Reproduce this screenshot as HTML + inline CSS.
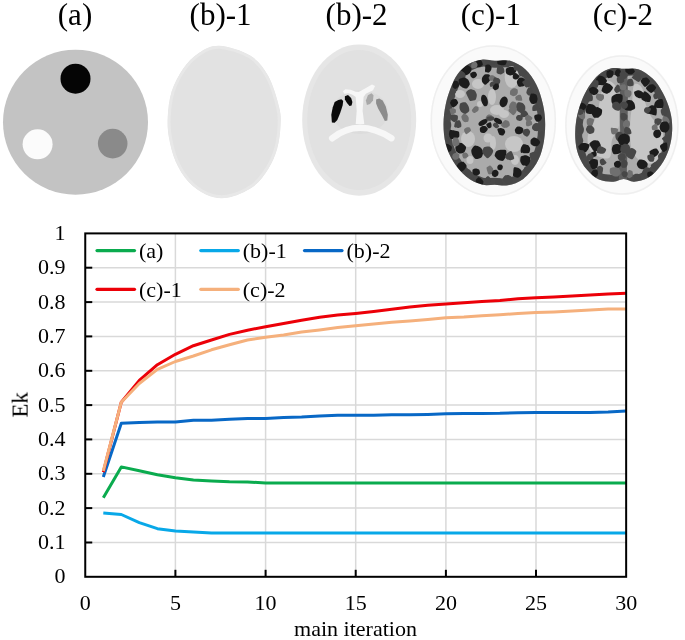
<!DOCTYPE html>
<html><head><meta charset="utf-8"><style>
html,body{margin:0;padding:0;background:#fff;}
svg{display:block;}
.t,.h{will-change:transform;}
.t{font-family:"Liberation Serif",serif;font-size:22px;fill:#000;}
.h{font-family:"Liberation Serif",serif;font-size:31px;fill:#000;}
</style></head><body>
<svg width="685" height="640" viewBox="0 0 685 640">
<rect width="685" height="640" fill="#fff"/>
<text x="75" y="25" text-anchor="middle" class="h">(a)</text>
<text x="220.6" y="25" text-anchor="middle" class="h">(b)-1</text>
<text x="356.6" y="25" text-anchor="middle" class="h">(b)-2</text>
<text x="490.8" y="25" text-anchor="middle" class="h">(c)-1</text>
<text x="622.9" y="25" text-anchor="middle" class="h">(c)-2</text>
<!-- (a) phantom -->
<circle cx="75.5" cy="122.2" r="72.5" fill="#c3c3c3"/>
<circle cx="75.5" cy="78.7" r="15" fill="#050505"/>
<circle cx="37.6" cy="144.3" r="15" fill="#fbfbfb"/>
<circle cx="112.7" cy="143.6" r="14.8" fill="#8a8a8a"/>
<!-- (b)-1 -->
<clipPath id="cb1"><path d="M219.3,45.7 C227.9,46.1 242.0,50.4 250.2,55.5 C258.4,60.6 263.5,67.5 268.3,76.1 C273.1,84.7 277.1,98.8 279.1,107.0 C281.2,115.2 280.9,118.2 280.6,125.1 C280.3,132.0 279.4,141.0 277.3,148.3 C275.2,155.6 272.4,162.5 268.3,168.9 C264.2,175.3 259.7,182.1 252.8,186.9 C245.9,191.7 234.7,196.5 227.0,197.8 C219.3,199.1 212.8,197.4 206.4,194.7 C200.0,192.0 193.6,187.4 188.4,181.8 C183.2,176.2 178.7,168.5 175.5,161.2 C172.3,153.9 170.3,145.3 169.0,138.0 C167.7,130.7 167.3,125.0 167.7,117.3 C168.1,109.6 169.0,99.8 171.6,91.6 C174.2,83.4 178.7,74.9 183.2,68.4 C187.7,62.0 192.7,56.7 198.7,52.9 C204.7,49.1 210.7,45.3 219.3,45.7 Z"/></clipPath>
<path d="M219.3,45.7 C227.9,46.1 242.0,50.4 250.2,55.5 C258.4,60.6 263.5,67.5 268.3,76.1 C273.1,84.7 277.1,98.8 279.1,107.0 C281.2,115.2 280.9,118.2 280.6,125.1 C280.3,132.0 279.4,141.0 277.3,148.3 C275.2,155.6 272.4,162.5 268.3,168.9 C264.2,175.3 259.7,182.1 252.8,186.9 C245.9,191.7 234.7,196.5 227.0,197.8 C219.3,199.1 212.8,197.4 206.4,194.7 C200.0,192.0 193.6,187.4 188.4,181.8 C183.2,176.2 178.7,168.5 175.5,161.2 C172.3,153.9 170.3,145.3 169.0,138.0 C167.7,130.7 167.3,125.0 167.7,117.3 C168.1,109.6 169.0,99.8 171.6,91.6 C174.2,83.4 178.7,74.9 183.2,68.4 C187.7,62.0 192.7,56.7 198.7,52.9 C204.7,49.1 210.7,45.3 219.3,45.7 Z" fill="#e2e2e2" stroke="#e8e8e8" stroke-width="6" clip-path="url(#cb1)"/>
<!-- (b)-2 -->
<ellipse cx="359.2" cy="120.1" rx="57" ry="75.7" fill="#e6e6e6"/>
<ellipse cx="359.2" cy="120.1" rx="52" ry="70" fill="#e1e1e1"/>
<ellipse cx="360" cy="112" rx="28" ry="22" fill="#dcdcdc"/>
<path d="M342.9,91.2 L345.4,89.2 L350.5,89.7 L355.7,91.8 L358.7,92.1 L365.9,88 L372,84.6 L375.1,86.1 L373,90.2 L365.9,93.8 L363.6,96.9 L362.6,110.7 L364.3,123.9 L355.7,123.9 L356.7,110.7 L355.7,96.9 L352.6,94.8 L348.5,93.3 L344.4,93.8 Z" fill="#f7f7f7"/>
<path d="M332.2,138.2 Q358.7,117.4 391.4,138.2" fill="none" stroke="#f7f7f7" stroke-width="6.5" stroke-linecap="round"/>
<path d="M331.9,122.4 L331.3,114.7 L332.7,107.6 L334.7,102 L338.3,99.9 L341.4,99.2 L343.2,100.9 L342.6,105.5 L340.3,112.7 L337.3,119.9 L334.7,122.7 Z" fill="#0a0a0a"/>
<path d="M344.9,96.3 L348,95.1 L351.1,97.9 L352.4,102 L351.6,105.5 L349.5,106.1 L347,103 L344.9,99.4 Z" fill="#0a0a0a"/>
<path d="M365.9,100.4 L367.9,95.3 L371.5,93.3 L373.5,95.3 L373,100.4 L370,104 L366.9,105 Z" fill="#a8a8a8"/>
<path d="M376.1,99.4 L379.2,98.4 L382.7,100.4 L385.8,106.6 L387.8,114.7 L387.3,120.4 L384.8,120.9 L382.2,115.8 L378.1,108.6 L376.1,103.5 Z" fill="#8c8c8c"/>
<defs><filter id="bl" x="-5%" y="-5%" width="110%" height="110%"><feGaussianBlur stdDeviation="0.7"/></filter><filter id="tx" x="0" y="0" width="100%" height="100%" filterUnits="objectBoundingBox"><feTurbulence type="fractalNoise" baseFrequency="0.2" numOctaves="2" seed="11" result="n"/><feColorMatrix in="n" type="matrix" values="0 0 0 0 0.22  0 0 0 0 0.22  0 0 0 0 0.22  -9 0 0 0 4.0"/><feGaussianBlur stdDeviation="0.6"/><feComposite in2="SourceGraphic" operator="in"/></filter></defs>
<ellipse cx="493.3" cy="121" rx="63" ry="76" fill="#fafafa"/>
<ellipse cx="493.3" cy="121" rx="62" ry="75" fill="none" stroke="#efefef" stroke-width="1.5"/>
<clipPath id="cp1"><path d="M494.9,60.8 C490.2,60.6 486.2,59.2 481.8,59.7 C477.4,60.2 472.6,61.6 468.6,64.0 C464.6,66.4 460.6,70.1 457.7,73.9 C454.8,77.7 453.1,81.9 451.1,87.0 C449.1,92.1 447.0,98.3 445.7,104.5 C444.4,110.7 443.5,117.6 443.5,124.2 C443.5,130.8 444.1,137.7 445.7,143.9 C447.3,150.1 449.9,155.9 453.3,161.4 C456.8,166.9 461.6,172.8 466.4,176.7 C471.1,180.6 477.1,183.2 481.8,184.6 C486.6,185.9 490.5,184.7 494.9,184.8 C499.3,184.9 503.3,186.2 508.0,185.2 C512.7,184.2 518.6,182.5 523.3,178.9 C528.0,175.3 533.1,169.1 536.4,163.6 C539.7,158.1 541.5,152.7 543.0,146.1 C544.5,139.5 545.2,131.1 545.2,124.2 C545.2,117.3 544.5,111.1 543.0,104.5 C541.5,97.9 539.3,90.6 536.4,84.8 C533.5,79.0 529.9,73.5 525.5,69.5 C521.1,65.5 515.3,62.2 510.2,60.8 C505.1,59.3 499.6,61.0 494.9,60.8 Z"/></clipPath>
<path d="M494.9,60.8 C490.2,60.6 486.2,59.2 481.8,59.7 C477.4,60.2 472.6,61.6 468.6,64.0 C464.6,66.4 460.6,70.1 457.7,73.9 C454.8,77.7 453.1,81.9 451.1,87.0 C449.1,92.1 447.0,98.3 445.7,104.5 C444.4,110.7 443.5,117.6 443.5,124.2 C443.5,130.8 444.1,137.7 445.7,143.9 C447.3,150.1 449.9,155.9 453.3,161.4 C456.8,166.9 461.6,172.8 466.4,176.7 C471.1,180.6 477.1,183.2 481.8,184.6 C486.6,185.9 490.5,184.7 494.9,184.8 C499.3,184.9 503.3,186.2 508.0,185.2 C512.7,184.2 518.6,182.5 523.3,178.9 C528.0,175.3 533.1,169.1 536.4,163.6 C539.7,158.1 541.5,152.7 543.0,146.1 C544.5,139.5 545.2,131.1 545.2,124.2 C545.2,117.3 544.5,111.1 543.0,104.5 C541.5,97.9 539.3,90.6 536.4,84.8 C533.5,79.0 529.9,73.5 525.5,69.5 C521.1,65.5 515.3,62.2 510.2,60.8 C505.1,59.3 499.6,61.0 494.9,60.8 Z" fill="#ababab"/>
<g clip-path="url(#cp1)"><g filter="url(#bl)">
<path d="M494.9,60.8 C490.2,60.6 486.2,59.2 481.8,59.7 C477.4,60.2 472.6,61.6 468.6,64.0 C464.6,66.4 460.6,70.1 457.7,73.9 C454.8,77.7 453.1,81.9 451.1,87.0 C449.1,92.1 447.0,98.3 445.7,104.5 C444.4,110.7 443.5,117.6 443.5,124.2 C443.5,130.8 444.1,137.7 445.7,143.9 C447.3,150.1 449.9,155.9 453.3,161.4 C456.8,166.9 461.6,172.8 466.4,176.7 C471.1,180.6 477.1,183.2 481.8,184.6 C486.6,185.9 490.5,184.7 494.9,184.8 C499.3,184.9 503.3,186.2 508.0,185.2 C512.7,184.2 518.6,182.5 523.3,178.9 C528.0,175.3 533.1,169.1 536.4,163.6 C539.7,158.1 541.5,152.7 543.0,146.1 C544.5,139.5 545.2,131.1 545.2,124.2 C545.2,117.3 544.5,111.1 543.0,104.5 C541.5,97.9 539.3,90.6 536.4,84.8 C533.5,79.0 529.9,73.5 525.5,69.5 C521.1,65.5 515.3,62.2 510.2,60.8 C505.1,59.3 499.6,61.0 494.9,60.8 Z" fill="none" stroke="#4a4a4a" stroke-width="14"/>
<ellipse cx="478" cy="84" rx="6" ry="5" fill="#c6c6c6"/>
<ellipse cx="492" cy="97" rx="4" ry="8" fill="#c6c6c6"/>
<ellipse cx="497" cy="110" rx="7" ry="5" fill="#c6c6c6"/>
<ellipse cx="511.7" cy="77" rx="7" ry="11" fill="#c6c6c6"/>
<ellipse cx="468" cy="139" rx="7" ry="8" fill="#c6c6c6"/>
<ellipse cx="488" cy="138" rx="4.5" ry="4.5" fill="#c6c6c6"/>
<ellipse cx="514" cy="144" rx="9" ry="8" fill="#c6c6c6"/>
<ellipse cx="515" cy="160" rx="4" ry="5" fill="#c6c6c6"/>
<ellipse cx="470" cy="160" rx="3.5" ry="4" fill="#c6c6c6"/>
<ellipse cx="493" cy="143" rx="3" ry="7" fill="#c6c6c6"/>
<ellipse cx="460" cy="94" rx="5" ry="4" fill="#c6c6c6"/>
<ellipse cx="480" cy="104" rx="3" ry="3" fill="#c6c6c6"/>
<ellipse cx="504" cy="114" rx="5" ry="4" fill="#c6c6c6"/>
<path d="M476.8,60.5 C477.3,60.1 478.9,59.4 479.5,59.5 C480.1,59.5 481.5,60.7 481.9,61.3 C482.2,62.0 483.0,64.0 482.8,64.7 C482.5,65.4 480.6,66.8 479.8,67.0 C479.0,67.2 476.5,67.1 476.0,66.6 C475.5,66.1 475.5,63.7 475.6,63.0 C475.7,62.3 476.4,61.0 476.8,60.5 Z" fill="#1e1e1e"/>
<path d="M484.8,62.5 C484.6,62.0 484.3,60.7 484.5,60.2 C484.6,59.7 485.7,58.2 486.2,58.1 C486.7,58.0 488.2,58.9 488.6,59.2 C489.1,59.6 489.8,60.6 489.9,61.2 C490.0,61.7 489.8,63.6 489.4,64.0 C489.0,64.4 487.0,64.8 486.5,64.6 C486.0,64.4 485.1,63.0 484.8,62.5 Z" fill="#474747"/>
<path d="M489.0,72.6 C488.3,72.8 485.7,72.5 485.3,72.0 C484.8,71.5 485.1,69.3 485.2,68.5 C485.2,67.7 485.1,65.5 485.5,65.0 C486.0,64.5 488.6,64.2 489.3,64.5 C490.0,64.7 491.3,66.5 491.5,67.1 C491.7,67.8 491.4,69.5 491.1,70.1 C490.8,70.8 489.6,72.4 489.0,72.6 Z" fill="#1e1e1e"/>
<path d="M477.5,64.7 C477.6,65.3 477.1,66.7 476.8,67.1 C476.4,67.5 475.3,68.1 474.7,68.2 C474.1,68.3 472.1,68.4 471.7,68.0 C471.3,67.6 471.1,65.6 471.2,64.9 C471.3,64.2 472.3,62.5 472.8,62.2 C473.4,61.9 475.5,61.9 476.0,62.1 C476.6,62.4 477.5,64.1 477.5,64.7 Z" fill="#707070"/>
<path d="M460.6,68.4 C460.9,67.6 463.4,66.1 464.3,65.7 C465.2,65.4 467.5,65.1 468.3,65.4 C469.1,65.7 471.3,67.6 471.5,68.5 C471.7,69.4 470.7,72.0 470.1,72.8 C469.4,73.6 467.1,75.2 466.2,75.2 C465.3,75.2 463.0,73.5 462.4,72.7 C461.7,71.9 460.4,69.2 460.6,68.4 Z" fill="#1e1e1e"/>
<path d="M472.6,71.9 C473.2,71.7 475.0,71.8 475.5,72.1 C476.0,72.4 477.0,74.1 477.0,74.7 C477.1,75.3 476.1,76.8 475.6,77.3 C475.1,77.7 473.5,78.4 472.9,78.3 C472.4,78.2 471.0,77.0 470.7,76.5 C470.4,75.9 470.0,74.1 470.2,73.6 C470.5,73.0 472.0,72.1 472.6,71.9 Z" fill="#1e1e1e"/>
<path d="M457.7,72.2 C458.5,71.6 461.0,70.9 461.9,71.1 C462.7,71.3 464.7,73.0 465.1,73.8 C465.5,74.6 465.6,76.9 465.4,77.9 C465.1,78.8 463.6,81.8 462.7,82.2 C461.8,82.5 458.5,81.3 457.7,80.6 C456.8,79.9 455.4,77.2 455.4,76.3 C455.4,75.3 457.0,72.8 457.7,72.2 Z" fill="#474747"/>
<path d="M466.9,88.5 C466.0,88.8 463.2,87.9 462.3,87.4 C461.4,87.0 459.7,85.6 459.3,84.6 C458.8,83.7 458.3,80.3 458.8,79.5 C459.3,78.7 462.7,77.6 463.8,77.6 C464.9,77.7 467.5,78.9 468.2,79.7 C468.9,80.5 469.9,83.3 469.8,84.3 C469.6,85.3 467.8,88.1 466.9,88.5 Z" fill="#1e1e1e"/>
<path d="M458.1,81.7 C458.7,82.2 459.2,84.4 459.1,85.1 C459.1,85.8 458.3,87.2 457.8,87.6 C457.4,88.1 455.8,89.0 455.2,89.0 C454.6,88.9 453.0,87.8 452.7,87.2 C452.4,86.6 452.3,84.9 452.5,84.2 C452.7,83.5 453.6,81.2 454.2,80.9 C454.9,80.6 457.6,81.2 458.1,81.7 Z" fill="#1e1e1e"/>
<path d="M454.7,89.6 C455.2,90.0 456.2,91.6 456.1,92.1 C456.0,92.7 454.8,94.0 454.2,94.4 C453.7,94.8 451.8,95.6 451.3,95.4 C450.7,95.2 449.7,93.4 449.5,92.7 C449.4,92.1 449.8,90.6 450.1,90.1 C450.4,89.7 451.8,88.9 452.3,88.8 C452.8,88.7 454.3,89.2 454.7,89.6 Z" fill="#474747"/>
<path d="M482.2,77.5 C482.5,76.7 483.9,74.8 484.7,74.4 C485.5,74.1 488.6,74.0 489.3,74.5 C490.0,75.1 490.6,77.9 490.6,78.8 C490.5,79.7 489.5,81.4 488.8,82.1 C488.2,82.8 486.0,84.9 485.2,84.8 C484.4,84.7 482.3,82.3 482.0,81.4 C481.7,80.6 481.9,78.3 482.2,77.5 Z" fill="#1e1e1e"/>
<path d="M494.6,79.4 C494.3,79.8 493.2,80.6 492.7,80.7 C492.1,80.8 490.4,80.8 489.9,80.4 C489.4,80.1 488.6,78.1 488.7,77.5 C488.8,76.9 490.2,75.5 490.7,75.3 C491.3,75.1 492.8,75.3 493.3,75.5 C493.8,75.7 495.2,76.5 495.4,77.0 C495.5,77.5 494.9,79.0 494.6,79.4 Z" fill="#707070"/>
<path d="M476.8,94.7 C476.9,95.8 476.3,99.0 475.6,99.8 C474.8,100.5 471.1,101.2 470.2,100.9 C469.3,100.5 468.2,97.7 467.7,96.7 C467.3,95.7 465.8,93.3 466.1,92.4 C466.3,91.5 469.0,89.4 470.0,89.2 C471.0,89.0 473.9,89.8 474.7,90.5 C475.5,91.1 476.7,93.6 476.8,94.7 Z" fill="#474747"/>
<path d="M453.2,107.4 C452.6,107.3 451.2,105.6 450.9,104.9 C450.5,104.3 449.8,102.6 450.0,102.0 C450.2,101.3 451.6,99.9 452.3,99.6 C453.0,99.3 455.4,98.8 456.1,99.2 C456.8,99.5 458.2,101.9 458.2,102.7 C458.2,103.4 456.7,105.1 456.1,105.7 C455.5,106.2 453.8,107.4 453.2,107.4 Z" fill="#1e1e1e"/>
<path d="M459.6,108.4 C459.4,107.4 459.5,104.1 460.2,103.4 C460.9,102.7 464.5,102.0 465.5,102.3 C466.5,102.7 468.0,105.3 468.5,106.3 C468.9,107.3 469.6,110.0 469.2,110.9 C468.8,111.8 466.2,113.7 465.3,113.9 C464.4,114.0 462.0,112.5 461.3,111.9 C460.6,111.2 459.7,109.4 459.6,108.4 Z" fill="#474747"/>
<path d="M452.9,108.3 C453.6,108.3 455.3,109.0 455.7,109.5 C456.0,110.0 456.0,112.1 455.8,112.6 C455.5,113.1 454.1,113.8 453.5,114.0 C453.0,114.2 451.5,114.4 451.1,114.2 C450.7,114.0 450.2,112.6 450.1,112.0 C449.9,111.4 449.4,109.3 449.7,108.9 C450.0,108.5 452.2,108.2 452.9,108.3 Z" fill="#707070"/>
<path d="M478.3,106.9 C478.7,107.3 478.7,109.3 478.6,109.9 C478.4,110.5 477.4,111.4 476.9,111.8 C476.4,112.1 474.8,113.2 474.2,113.1 C473.6,113.0 471.9,111.3 471.8,110.7 C471.7,110.1 473.0,108.6 473.4,108.0 C473.8,107.5 474.7,106.4 475.3,106.2 C475.9,106.1 478.0,106.4 478.3,106.9 Z" fill="#707070"/>
<path d="M457.6,119.8 C457.2,120.5 455.3,122.1 454.6,122.2 C453.9,122.3 452.2,121.0 451.6,120.5 C451.0,120.0 449.8,118.6 449.7,118.0 C449.7,117.3 450.5,115.2 451.0,114.8 C451.6,114.4 453.6,114.4 454.3,114.5 C455.1,114.6 457.3,115.2 457.7,115.8 C458.1,116.5 458.0,119.0 457.6,119.8 Z" fill="#474747"/>
<path d="M462.1,119.5 C461.7,118.8 461.2,117.0 461.4,116.3 C461.7,115.6 463.3,113.8 464.0,113.7 C464.7,113.6 466.6,114.7 467.1,115.2 C467.7,115.7 468.6,117.0 468.7,117.8 C468.8,118.5 468.7,121.1 468.2,121.6 C467.7,122.1 465.0,122.3 464.3,122.0 C463.6,121.8 462.4,120.2 462.1,119.5 Z" fill="#707070"/>
<path d="M485.5,119.4 C485.3,118.8 486.0,116.9 486.4,116.3 C486.7,115.8 488.0,114.6 488.6,114.5 C489.3,114.4 491.1,114.8 491.6,115.2 C492.2,115.6 493.3,117.5 493.3,118.1 C493.2,118.8 491.8,120.4 491.2,120.7 C490.6,121.1 488.9,121.3 488.2,121.2 C487.6,121.0 485.8,120.0 485.5,119.4 Z" fill="#707070"/>
<path d="M496.6,63.8 C496.3,64.3 494.7,64.9 494.0,65.1 C493.4,65.3 491.5,65.7 491.0,65.4 C490.4,65.0 489.5,62.9 489.6,62.3 C489.6,61.7 491.2,60.6 491.7,60.2 C492.3,59.9 493.5,59.4 494.0,59.5 C494.6,59.5 496.3,60.2 496.6,60.7 C496.9,61.3 496.9,63.3 496.6,63.8 Z" fill="#474747"/>
<path d="M492.9,86.5 C492.4,86.6 490.8,87.1 490.4,86.8 C490.0,86.5 489.6,84.8 489.7,84.3 C489.7,83.8 490.4,82.6 490.8,82.2 C491.2,81.9 492.6,81.3 493.1,81.4 C493.6,81.4 495.0,82.5 495.1,83.0 C495.3,83.4 494.7,84.9 494.5,85.3 C494.2,85.7 493.4,86.3 492.9,86.5 Z" fill="#474747"/>
<path d="M450.5,102.1 C450.2,102.6 448.4,103.6 447.7,103.7 C447.1,103.7 445.2,103.0 444.7,102.5 C444.2,102.0 443.3,100.0 443.3,99.3 C443.4,98.6 444.8,96.8 445.5,96.4 C446.2,96.0 448.7,95.4 449.2,95.7 C449.8,96.0 450.3,98.4 450.5,99.1 C450.6,99.9 450.8,101.6 450.5,102.1 Z" fill="#474747"/>
<path d="M443.1,114.0 C442.6,113.5 441.6,111.3 441.7,110.7 C441.9,110.2 444.0,109.1 444.7,108.9 C445.4,108.7 447.0,108.9 447.6,109.2 C448.2,109.4 449.5,110.8 449.7,111.4 C449.8,112.0 449.2,114.0 448.7,114.5 C448.3,114.9 446.4,115.5 445.8,115.4 C445.1,115.4 443.6,114.6 443.1,114.0 Z" fill="#474747"/>
<path d="M458.0,69.8 C457.4,69.7 456.0,68.5 455.6,67.9 C455.2,67.4 454.3,65.7 454.4,65.2 C454.5,64.6 456.0,63.2 456.6,63.1 C457.1,62.9 458.5,63.5 459.1,63.7 C459.7,64.0 461.6,64.6 461.8,65.1 C462.0,65.7 461.3,67.7 460.9,68.3 C460.4,68.8 458.6,69.8 458.0,69.8 Z" fill="#474747"/>
<path d="M506.8,60.2 C507.1,61.0 506.1,64.2 505.5,64.8 C504.8,65.4 502.1,65.3 501.2,65.3 C500.3,65.2 498.0,64.7 497.6,64.1 C497.1,63.5 497.1,61.1 497.4,60.3 C497.6,59.5 498.8,57.5 499.5,57.2 C500.1,56.9 502.2,57.6 503.0,58.0 C503.9,58.3 506.5,59.4 506.8,60.2 Z" fill="#1e1e1e"/>
<path d="M496.8,73.0 C496.4,72.4 496.7,70.1 496.8,69.2 C497.0,68.4 497.5,66.2 498.0,65.9 C498.6,65.5 501.0,65.8 501.7,66.1 C502.3,66.4 503.6,67.8 503.9,68.5 C504.2,69.3 504.6,71.6 504.3,72.3 C503.9,73.0 501.6,74.4 500.7,74.5 C499.9,74.6 497.3,73.6 496.8,73.0 Z" fill="#474747"/>
<path d="M506.0,68.9 C506.3,68.2 508.7,67.2 509.5,67.0 C510.4,66.8 512.3,66.8 513.1,67.1 C513.9,67.5 516.4,69.3 516.5,70.1 C516.6,71.0 514.9,73.6 514.2,74.2 C513.5,74.8 511.1,75.5 510.2,75.4 C509.3,75.4 506.8,74.2 506.3,73.4 C505.8,72.7 505.6,69.7 506.0,68.9 Z" fill="#1e1e1e"/>
<path d="M520.8,67.9 C520.6,68.6 519.0,70.0 518.2,70.2 C517.5,70.5 515.0,70.7 514.5,70.3 C514.0,69.9 513.8,67.6 513.7,66.8 C513.6,65.9 513.3,63.5 513.7,63.1 C514.1,62.7 516.7,63.2 517.4,63.4 C518.1,63.6 519.5,64.2 519.9,64.8 C520.3,65.3 521.0,67.3 520.8,67.9 Z" fill="#474747"/>
<path d="M516.1,62.5 C516.4,62.0 518.2,61.6 518.8,61.6 C519.4,61.6 520.5,62.2 521.0,62.6 C521.5,63.1 522.9,64.6 522.8,65.1 C522.8,65.6 521.1,66.7 520.5,67.0 C519.9,67.3 518.3,67.9 517.7,67.7 C517.2,67.5 515.9,66.1 515.7,65.5 C515.5,64.9 515.7,63.0 516.1,62.5 Z" fill="#474747"/>
<path d="M513.0,78.2 C512.7,77.7 512.7,75.9 512.9,75.2 C513.1,74.6 514.3,72.8 514.9,72.7 C515.4,72.6 517.1,73.8 517.6,74.2 C518.2,74.6 519.6,75.8 519.6,76.3 C519.7,76.8 518.4,78.3 517.9,78.7 C517.5,79.0 516.1,79.7 515.5,79.6 C514.9,79.5 513.3,78.7 513.0,78.2 Z" fill="#1e1e1e"/>
<path d="M521.6,69.7 C522.3,69.4 524.0,69.3 524.7,69.5 C525.4,69.7 527.4,71.0 527.5,71.6 C527.7,72.2 526.3,74.1 525.8,74.7 C525.4,75.2 524.2,76.5 523.5,76.6 C522.7,76.8 520.2,76.5 519.7,76.0 C519.1,75.4 518.3,72.7 518.5,71.9 C518.8,71.2 520.9,69.9 521.6,69.7 Z" fill="#474747"/>
<path d="M525.9,84.0 C525.6,84.7 524.0,86.0 523.2,86.3 C522.3,86.6 519.5,87.0 518.7,86.6 C518.0,86.1 516.8,83.2 516.8,82.1 C516.8,81.1 518.2,78.3 518.9,77.9 C519.7,77.4 522.5,77.6 523.3,77.9 C524.1,78.2 525.6,79.8 525.9,80.5 C526.2,81.2 526.3,83.3 525.9,84.0 Z" fill="#1e1e1e"/>
<path d="M528.7,79.6 C529.3,79.9 530.4,81.9 530.6,82.7 C530.7,83.5 530.5,86.0 530.0,86.6 C529.5,87.1 526.9,87.7 526.2,87.5 C525.5,87.3 524.5,85.7 524.0,85.0 C523.5,84.4 522.1,82.5 522.2,82.0 C522.3,81.4 524.5,80.3 525.2,80.0 C526.0,79.7 528.0,79.3 528.7,79.6 Z" fill="#474747"/>
<path d="M494.7,77.2 C495.3,76.9 497.6,77.8 498.2,78.1 C498.9,78.5 500.0,79.6 500.2,80.2 C500.4,80.7 500.1,82.4 499.8,83.0 C499.5,83.5 498.1,85.1 497.5,85.2 C496.9,85.3 495.1,84.2 494.6,83.6 C494.1,83.1 493.0,81.4 493.0,80.7 C493.0,79.9 494.0,77.5 494.7,77.2 Z" fill="#474747"/>
<path d="M495.5,83.6 C496.1,83.4 497.9,83.4 498.3,83.7 C498.7,84.0 499.1,85.8 499.0,86.5 C499.0,87.1 498.5,88.6 498.1,89.0 C497.6,89.4 495.8,90.3 495.2,90.2 C494.5,90.1 492.8,88.6 492.6,88.0 C492.5,87.4 493.4,85.7 493.7,85.2 C494.1,84.7 495.0,83.8 495.5,83.6 Z" fill="#1e1e1e"/>
<path d="M526.5,93.3 C526.2,92.7 526.6,91.2 526.8,90.5 C527.1,89.8 527.9,87.7 528.5,87.4 C529.1,87.2 531.6,87.9 532.1,88.4 C532.6,88.8 533.1,90.8 533.1,91.6 C533.1,92.4 532.9,94.6 532.4,95.0 C531.9,95.5 529.5,95.8 528.8,95.6 C528.1,95.5 526.7,93.9 526.5,93.3 Z" fill="#474747"/>
<path d="M529.5,100.6 C529.3,99.8 529.2,98.2 529.4,97.4 C529.6,96.6 530.7,93.9 531.5,93.6 C532.3,93.3 535.5,94.0 536.2,94.6 C536.9,95.3 537.6,98.0 537.6,99.0 C537.6,100.0 536.9,102.7 536.2,103.2 C535.5,103.8 532.5,104.1 531.7,103.8 C531.0,103.4 529.8,101.3 529.5,100.6 Z" fill="#1e1e1e"/>
<path d="M516.3,95.3 C515.8,95.7 514.2,96.2 513.5,96.2 C512.8,96.1 510.5,95.2 510.1,94.6 C509.8,93.9 510.0,91.4 510.4,90.6 C510.8,89.9 512.7,88.4 513.5,88.2 C514.3,88.0 516.9,88.6 517.4,89.2 C517.9,89.7 517.9,92.1 517.8,92.8 C517.7,93.5 516.8,94.9 516.3,95.3 Z" fill="#707070"/>
<path d="M519.1,100.7 C518.4,100.7 516.6,100.7 516.2,100.3 C515.8,99.9 515.1,97.8 515.3,97.1 C515.5,96.5 517.1,95.4 517.7,95.2 C518.3,94.9 520.1,94.6 520.6,94.9 C521.1,95.1 521.6,96.7 521.8,97.4 C522.0,98.0 522.5,100.1 522.2,100.5 C521.9,100.8 519.8,100.7 519.1,100.7 Z" fill="#707070"/>
<path d="M516.0,102.5 C516.6,103.1 517.3,105.4 517.2,106.2 C517.2,107.0 516.1,109.3 515.5,109.6 C514.9,109.9 512.9,109.1 512.1,108.9 C511.3,108.6 509.3,108.2 509.0,107.7 C508.8,107.1 509.5,105.0 509.8,104.3 C510.2,103.6 511.4,101.7 512.1,101.5 C512.8,101.3 515.4,102.0 516.0,102.5 Z" fill="#707070"/>
<path d="M514.3,106.8 C515.1,107.1 516.8,108.8 517.0,109.5 C517.2,110.2 516.2,112.1 515.8,112.8 C515.4,113.5 514.0,115.2 513.4,115.3 C512.8,115.3 511.3,113.8 510.7,113.2 C510.1,112.7 508.5,111.2 508.5,110.5 C508.4,109.8 509.8,107.7 510.5,107.3 C511.2,106.8 513.6,106.5 514.3,106.8 Z" fill="#707070"/>
<path d="M522.3,113.4 C521.4,113.6 518.4,112.0 517.7,111.3 C517.0,110.6 516.4,108.2 516.4,107.2 C516.4,106.1 517.0,103.0 517.7,102.5 C518.4,102.0 521.6,102.5 522.5,102.9 C523.3,103.3 524.7,105.0 525.0,105.8 C525.3,106.6 525.5,108.7 525.2,109.6 C524.9,110.5 523.1,113.2 522.3,113.4 Z" fill="#474747"/>
<path d="M522.6,117.1 C522.0,116.8 520.5,115.0 520.5,114.4 C520.4,113.8 521.7,112.3 522.2,111.8 C522.6,111.3 524.0,110.2 524.6,110.2 C525.1,110.2 526.5,111.3 526.9,111.8 C527.4,112.4 528.4,114.2 528.3,114.8 C528.1,115.3 526.4,116.5 525.7,116.8 C525.1,117.0 523.2,117.4 522.6,117.1 Z" fill="#474747"/>
<path d="M538.9,106.2 C539.3,106.9 540.3,109.2 540.1,109.8 C539.8,110.3 537.3,110.6 536.4,110.7 C535.6,110.8 533.2,111.3 532.7,110.9 C532.2,110.5 532.2,107.9 532.4,107.2 C532.6,106.4 533.5,105.2 534.1,104.8 C534.6,104.4 536.4,103.6 537.0,103.7 C537.6,103.9 538.5,105.5 538.9,106.2 Z" fill="#474747"/>
<path d="M537.5,114.3 C538.3,114.3 540.3,114.5 540.8,114.9 C541.4,115.4 542.0,117.5 541.9,118.3 C541.8,119.0 540.7,120.6 540.1,121.0 C539.4,121.4 537.4,122.0 536.7,121.8 C536.1,121.6 535.0,119.8 534.7,119.1 C534.5,118.4 534.0,116.3 534.3,115.7 C534.6,115.1 536.8,114.4 537.5,114.3 Z" fill="#1e1e1e"/>
<path d="M532.5,117.9 C532.6,118.5 531.2,120.1 530.7,120.5 C530.1,121.0 528.4,121.6 527.8,121.4 C527.1,121.3 525.6,120.1 525.3,119.5 C525.0,118.9 525.1,116.9 525.4,116.3 C525.7,115.8 527.4,114.9 527.9,114.9 C528.5,114.8 529.7,115.5 530.3,115.9 C530.8,116.2 532.5,117.4 532.5,117.9 Z" fill="#707070"/>
<path d="M517.5,115.3 C518.0,115.0 519.6,114.9 520.2,115.1 C520.8,115.2 522.5,116.2 522.7,116.7 C523.0,117.3 522.5,119.4 522.1,119.9 C521.7,120.4 520.0,120.9 519.4,120.9 C518.8,120.9 517.3,120.4 516.9,120.0 C516.5,119.6 515.9,118.0 516.0,117.5 C516.0,116.9 517.1,115.6 517.5,115.3 Z" fill="#474747"/>
<path d="M535.7,81.7 C535.4,81.2 535.3,79.8 535.5,79.3 C535.6,78.7 536.3,77.5 536.8,77.2 C537.4,76.9 539.3,76.4 539.9,76.7 C540.4,76.9 541.3,78.8 541.4,79.4 C541.5,80.1 541.2,82.1 540.8,82.5 C540.4,83.0 538.4,83.4 537.8,83.3 C537.2,83.2 535.9,82.1 535.7,81.7 Z" fill="#474747"/>
<path d="M540.0,98.1 C539.5,97.9 538.9,96.4 538.7,95.8 C538.5,95.3 538.3,94.0 538.6,93.5 C538.8,93.1 540.1,92.1 540.6,92.0 C541.2,91.9 542.8,92.2 543.3,92.6 C543.7,93.0 544.4,94.7 544.4,95.3 C544.3,95.9 543.2,97.3 542.7,97.6 C542.2,97.9 540.4,98.3 540.0,98.1 Z" fill="#474747"/>
<path d="M539.9,111.0 C539.7,110.4 539.6,109.0 539.8,108.4 C540.0,107.9 541.4,106.4 542.0,106.3 C542.6,106.2 544.6,106.9 545.0,107.4 C545.4,107.8 545.3,109.7 545.2,110.2 C545.1,110.8 544.3,111.8 543.9,112.1 C543.5,112.5 542.0,113.2 541.5,113.0 C541.1,112.9 540.1,111.5 539.9,111.0 Z" fill="#474747"/>
<path d="M443.4,122.0 C443.9,121.3 446.3,119.8 447.2,119.9 C448.0,120.0 450.4,121.8 450.9,122.6 C451.3,123.5 451.4,126.4 451.0,127.1 C450.6,127.9 448.3,129.0 447.5,129.1 C446.6,129.3 444.5,128.9 444.0,128.5 C443.4,128.1 442.7,126.2 442.6,125.4 C442.6,124.7 442.9,122.6 443.4,122.0 Z" fill="#474747"/>
<path d="M457.9,128.0 C457.1,128.0 454.7,127.6 454.3,127.1 C454.0,126.5 454.5,124.2 454.7,123.5 C454.9,122.8 455.5,121.1 456.1,120.8 C456.6,120.4 458.9,120.0 459.5,120.3 C460.1,120.6 460.9,122.5 461.1,123.2 C461.3,124.0 461.6,126.1 461.2,126.7 C460.9,127.2 458.7,127.9 457.9,128.0 Z" fill="#474747"/>
<path d="M448.9,134.8 C448.8,133.8 449.2,130.8 449.9,130.3 C450.5,129.8 453.3,130.4 454.4,130.6 C455.4,130.7 458.3,131.1 458.9,131.8 C459.4,132.6 459.6,136.2 459.1,137.0 C458.6,137.8 455.7,138.6 454.7,138.8 C453.7,139.0 451.2,139.2 450.5,138.7 C449.9,138.3 449.0,135.8 448.9,134.8 Z" fill="#1e1e1e"/>
<path d="M448.4,144.2 C447.7,144.5 445.2,143.9 444.6,143.5 C444.0,143.1 443.4,141.3 443.3,140.6 C443.1,140.0 443.2,138.4 443.5,137.8 C443.9,137.2 445.6,135.4 446.2,135.3 C446.9,135.3 448.7,136.8 449.3,137.4 C449.8,138.1 450.8,140.0 450.7,140.8 C450.6,141.6 449.1,143.8 448.4,144.2 Z" fill="#474747"/>
<path d="M444.9,144.0 C445.5,143.6 448.0,144.1 448.8,144.4 C449.6,144.7 451.6,146.1 451.8,146.8 C452.1,147.6 451.6,150.2 451.1,150.8 C450.6,151.5 448.4,152.3 447.6,152.3 C446.8,152.4 444.6,151.7 444.1,151.1 C443.6,150.6 443.3,148.4 443.4,147.6 C443.5,146.8 444.3,144.4 444.9,144.0 Z" fill="#1e1e1e"/>
<path d="M462.5,143.4 C463.5,143.9 465.9,146.1 466.1,147.2 C466.3,148.2 465.1,151.4 464.3,152.2 C463.6,152.9 460.6,153.6 459.6,153.5 C458.6,153.3 456.5,151.7 456.0,150.9 C455.5,150.2 455.2,147.8 455.4,146.9 C455.6,146.0 456.9,143.4 457.7,143.0 C458.6,142.6 461.6,143.0 462.5,143.4 Z" fill="#1e1e1e"/>
<path d="M456.1,152.7 C456.8,152.7 458.8,153.8 459.2,154.3 C459.5,154.9 459.3,157.1 459.0,157.7 C458.8,158.3 457.4,159.3 456.8,159.6 C456.2,159.8 454.4,159.9 453.9,159.6 C453.3,159.3 452.3,157.7 452.2,157.0 C452.1,156.4 452.7,154.6 453.1,154.1 C453.6,153.6 455.4,152.6 456.1,152.7 Z" fill="#707070"/>
<path d="M456.7,166.0 C457.0,165.1 458.3,163.3 459.1,162.8 C459.9,162.4 462.8,161.6 463.7,161.9 C464.5,162.3 466.6,165.0 466.7,166.0 C466.8,166.9 464.9,169.1 464.3,169.8 C463.6,170.6 461.7,172.1 460.9,172.2 C460.0,172.3 457.1,171.1 456.7,170.4 C456.2,169.6 456.4,166.9 456.7,166.0 Z" fill="#1e1e1e"/>
<path d="M472.3,155.0 C471.7,154.0 471.1,151.4 471.3,150.3 C471.6,149.2 473.5,146.0 474.6,145.7 C475.6,145.3 479.2,146.5 480.2,147.3 C481.2,148.0 483.0,150.7 483.2,151.9 C483.3,153.1 482.3,156.6 481.4,157.5 C480.6,158.3 476.8,159.3 475.7,159.0 C474.7,158.7 472.8,156.0 472.3,155.0 Z" fill="#1e1e1e"/>
<path d="M484.1,155.2 C483.5,154.4 482.2,152.6 482.2,151.7 C482.2,150.8 483.3,147.9 484.1,147.3 C484.9,146.7 488.3,146.3 489.3,146.6 C490.4,147.0 493.0,149.5 493.2,150.5 C493.5,151.5 492.0,154.4 491.3,155.3 C490.7,156.2 488.4,158.3 487.6,158.3 C486.7,158.3 484.7,156.0 484.1,155.2 Z" fill="#474747"/>
<path d="M479.9,128.2 C480.2,127.5 482.0,126.3 482.7,126.1 C483.4,125.9 485.1,126.0 485.7,126.3 C486.3,126.6 487.8,128.2 487.9,128.8 C488.0,129.4 486.8,131.0 486.3,131.5 C485.9,132.0 484.5,133.1 483.8,133.1 C483.1,133.2 480.8,132.5 480.4,131.9 C479.9,131.3 479.7,128.9 479.9,128.2 Z" fill="#1e1e1e"/>
<path d="M487.1,126.7 C486.8,126.2 486.2,124.8 486.3,124.3 C486.5,123.9 487.8,123.1 488.3,122.9 C488.8,122.6 490.4,122.2 490.8,122.4 C491.2,122.6 491.5,124.3 491.6,124.8 C491.6,125.4 491.6,126.8 491.3,127.2 C491.0,127.6 489.5,128.4 489.0,128.3 C488.5,128.3 487.4,127.1 487.1,126.7 Z" fill="#1e1e1e"/>
<path d="M468.5,156.1 C468.4,156.6 466.9,157.6 466.3,157.9 C465.8,158.2 464.2,158.7 463.8,158.5 C463.3,158.3 462.6,156.8 462.5,156.2 C462.3,155.7 462.2,154.1 462.5,153.7 C462.7,153.3 464.3,152.7 464.8,152.6 C465.4,152.6 466.8,153.1 467.3,153.5 C467.7,153.9 468.6,155.6 468.5,156.1 Z" fill="#707070"/>
<path d="M475.9,168.6 C476.6,168.6 478.7,169.2 479.2,169.8 C479.7,170.4 480.2,172.9 479.9,173.6 C479.7,174.3 477.6,175.4 476.9,175.5 C476.2,175.7 474.5,175.4 474.0,175.1 C473.5,174.7 472.7,173.4 472.6,172.8 C472.4,172.1 472.3,170.1 472.7,169.6 C473.0,169.1 475.1,168.6 475.9,168.6 Z" fill="#1e1e1e"/>
<path d="M483.5,181.8 C483.5,182.5 483.0,184.6 482.4,185.1 C481.9,185.6 479.6,186.3 478.8,186.1 C478.1,186.0 476.4,184.4 476.0,183.6 C475.7,182.9 475.5,180.7 475.8,179.9 C476.2,179.1 478.0,177.3 478.7,177.2 C479.4,177.1 481.4,178.6 481.9,179.2 C482.5,179.7 483.4,181.1 483.5,181.8 Z" fill="#1e1e1e"/>
<path d="M470.5,173.8 C470.3,174.5 469.4,175.8 468.9,176.2 C468.3,176.6 466.4,177.6 465.7,177.4 C465.1,177.2 463.5,175.4 463.4,174.7 C463.2,174.0 463.9,172.2 464.3,171.5 C464.7,170.9 466.1,169.3 466.8,169.1 C467.5,169.0 469.9,169.8 470.4,170.3 C470.8,170.9 470.6,173.1 470.5,173.8 Z" fill="#474747"/>
<path d="M492.3,173.8 C491.8,174.2 489.3,174.6 488.7,174.3 C488.1,174.0 487.4,171.9 487.2,171.1 C487.0,170.4 486.3,168.3 486.6,167.6 C486.9,167.0 489.3,165.4 490.0,165.4 C490.7,165.5 492.3,167.4 492.7,168.0 C493.1,168.6 493.4,170.0 493.3,170.7 C493.3,171.4 492.9,173.4 492.3,173.8 Z" fill="#707070"/>
<path d="M486.8,183.0 C486.2,182.8 484.5,181.4 484.4,180.8 C484.2,180.2 485.2,178.4 485.6,177.9 C486.1,177.3 487.5,176.1 488.0,176.1 C488.5,176.1 489.7,177.4 490.2,177.9 C490.6,178.4 491.8,179.7 491.7,180.3 C491.7,180.9 490.5,182.4 489.9,182.7 C489.3,183.1 487.5,183.2 486.8,183.0 Z" fill="#474747"/>
<path d="M459.2,144.6 C458.9,145.3 456.6,146.6 455.9,146.6 C455.1,146.6 453.0,145.3 452.6,144.7 C452.2,144.1 452.4,142.2 452.5,141.4 C452.6,140.6 452.9,138.1 453.5,137.7 C454.1,137.3 456.8,137.5 457.5,137.9 C458.2,138.3 459.0,140.3 459.2,141.1 C459.4,141.9 459.6,144.0 459.2,144.6 Z" fill="#707070"/>
<path d="M464.4,131.7 C464.2,131.1 464.0,129.5 464.2,129.0 C464.5,128.5 465.9,127.6 466.5,127.4 C467.1,127.2 469.1,127.1 469.6,127.4 C470.1,127.8 471.1,129.8 471.0,130.4 C470.9,131.0 469.4,132.0 468.9,132.5 C468.3,133.0 466.8,134.4 466.3,134.3 C465.8,134.2 464.7,132.4 464.4,131.7 Z" fill="#707070"/>
<path d="M448.1,158.7 C448.7,158.2 451.0,157.7 451.7,157.9 C452.5,158.1 453.9,159.6 454.2,160.2 C454.6,160.9 455.1,162.9 454.9,163.7 C454.6,164.4 452.9,166.3 452.2,166.5 C451.5,166.6 449.7,165.2 449.0,164.8 C448.4,164.3 446.8,162.9 446.7,162.2 C446.6,161.5 447.5,159.2 448.1,158.7 Z" fill="#474747"/>
<path d="M468.9,179.3 C469.0,178.7 470.2,177.5 470.7,177.2 C471.2,176.9 473.1,176.6 473.6,176.9 C474.0,177.1 474.6,178.8 474.8,179.4 C474.9,180.1 475.2,181.8 474.8,182.3 C474.5,182.8 472.5,183.7 471.9,183.7 C471.4,183.6 470.3,182.1 470.0,181.6 C469.6,181.1 468.9,179.8 468.9,179.3 Z" fill="#474747"/>
<path d="M503.9,129.1 C504.4,129.6 505.3,131.4 505.2,132.1 C505.2,132.8 504.0,134.9 503.4,135.2 C502.8,135.5 500.5,135.4 499.9,135.1 C499.3,134.7 498.6,133.2 498.3,132.4 C498.0,131.7 497.1,129.3 497.4,128.8 C497.7,128.3 500.3,128.0 501.1,128.0 C501.8,128.1 503.4,128.6 503.9,129.1 Z" fill="#1e1e1e"/>
<path d="M496.8,128.3 C496.3,128.4 495.0,127.6 494.5,127.2 C494.0,126.9 492.9,125.8 492.8,125.2 C492.8,124.7 493.7,123.1 494.2,122.8 C494.6,122.6 496.2,122.6 496.6,122.8 C497.1,122.9 497.7,123.8 498.0,124.2 C498.3,124.7 499.3,126.1 499.2,126.6 C499.0,127.1 497.4,128.2 496.8,128.3 Z" fill="#474747"/>
<path d="M522.8,132.6 C522.4,133.3 520.4,134.2 519.6,134.3 C518.8,134.4 516.6,134.1 516.1,133.6 C515.5,133.1 514.8,130.8 514.8,130.0 C514.9,129.2 516.1,127.3 516.8,126.9 C517.4,126.5 519.5,126.5 520.3,126.7 C521.1,126.9 523.0,128.1 523.3,128.8 C523.6,129.5 523.2,132.0 522.8,132.6 Z" fill="#1e1e1e"/>
<path d="M529.4,134.4 C529.0,135.0 527.5,136.7 526.9,136.8 C526.2,136.8 524.4,135.5 523.9,135.0 C523.4,134.4 522.4,132.6 522.5,131.9 C522.5,131.3 523.9,129.5 524.5,129.2 C525.1,128.8 527.3,128.5 527.9,128.8 C528.6,129.0 529.9,130.7 530.1,131.3 C530.3,132.0 529.7,133.8 529.4,134.4 Z" fill="#474747"/>
<path d="M535.8,123.0 C536.6,122.9 539.3,123.4 539.8,124.0 C540.3,124.6 540.2,127.3 540.0,128.1 C539.8,128.9 538.5,130.7 537.8,131.0 C537.1,131.3 535.0,131.1 534.3,130.8 C533.6,130.5 532.2,129.0 532.0,128.3 C531.8,127.6 532.4,125.6 532.8,125.0 C533.3,124.3 535.0,123.1 535.8,123.0 Z" fill="#474747"/>
<path d="M537.9,133.6 C538.1,133.0 540.1,131.8 540.7,131.6 C541.4,131.3 543.1,131.3 543.7,131.5 C544.3,131.8 545.8,133.1 546.0,133.7 C546.2,134.4 546.0,136.6 545.6,137.3 C545.1,138.0 543.0,139.4 542.2,139.4 C541.4,139.4 539.6,137.7 539.1,137.1 C538.6,136.4 537.7,134.3 537.9,133.6 Z" fill="#474747"/>
<path d="M534.0,146.2 C533.2,146.1 531.2,144.8 530.8,144.1 C530.4,143.3 530.3,140.8 530.7,140.1 C531.0,139.3 533.0,137.8 533.8,137.6 C534.6,137.4 536.7,138.2 537.4,138.7 C538.2,139.2 540.2,141.1 540.3,141.9 C540.4,142.7 538.7,145.2 537.9,145.7 C537.2,146.2 534.8,146.4 534.0,146.2 Z" fill="#1e1e1e"/>
<path d="M530.1,148.5 C530.3,149.4 529.8,152.2 529.2,152.7 C528.6,153.3 526.1,153.2 525.2,153.2 C524.2,153.1 521.4,153.1 520.9,152.4 C520.4,151.8 520.6,148.9 520.9,148.0 C521.2,147.0 522.5,144.5 523.3,144.2 C524.1,143.9 527.0,144.6 527.8,145.1 C528.6,145.6 530.0,147.6 530.1,148.5 Z" fill="#1e1e1e"/>
<path d="M494.6,155.6 C494.5,154.6 495.7,151.9 496.4,151.2 C497.1,150.5 499.3,149.9 500.5,149.8 C501.6,149.7 505.4,149.5 506.0,150.2 C506.7,150.9 506.4,154.8 506.0,156.0 C505.7,157.2 504.0,160.3 503.1,160.8 C502.1,161.2 498.7,160.1 497.7,159.5 C496.7,158.9 494.8,156.6 494.6,155.6 Z" fill="#1e1e1e"/>
<path d="M514.1,158.8 C513.8,159.4 511.3,160.1 510.5,160.2 C509.7,160.3 507.9,160.1 507.2,159.6 C506.5,159.2 504.9,157.3 504.9,156.5 C504.9,155.8 506.4,153.9 507.1,153.2 C507.8,152.6 510.4,150.8 511.1,151.0 C511.8,151.2 512.9,154.1 513.2,155.0 C513.6,155.9 514.5,158.2 514.1,158.8 Z" fill="#474747"/>
<path d="M525.9,155.2 C527.0,155.4 530.0,156.7 530.4,157.5 C530.9,158.3 530.2,161.3 529.8,162.2 C529.5,163.2 528.1,165.5 527.3,165.8 C526.5,166.2 523.5,165.8 522.7,165.3 C521.9,164.8 520.5,162.5 520.3,161.5 C520.1,160.5 520.3,157.2 520.9,156.5 C521.6,155.8 524.8,155.1 525.9,155.2 Z" fill="#1e1e1e"/>
<path d="M539.2,155.3 C539.3,156.1 538.8,158.7 538.2,159.3 C537.6,159.9 535.0,160.6 534.1,160.5 C533.2,160.3 530.9,159.0 530.4,158.2 C529.8,157.3 529.3,154.2 529.7,153.5 C530.1,152.7 532.9,151.8 533.8,151.7 C534.6,151.6 536.6,151.8 537.2,152.3 C537.9,152.7 539.0,154.5 539.2,155.3 Z" fill="#474747"/>
<path d="M498.8,164.8 C499.3,164.5 500.8,164.3 501.2,164.5 C501.7,164.6 502.7,165.8 502.8,166.2 C502.9,166.7 502.7,168.0 502.5,168.4 C502.2,168.9 501.2,170.2 500.7,170.3 C500.1,170.4 498.3,169.9 497.9,169.5 C497.5,169.1 497.2,167.3 497.3,166.8 C497.5,166.2 498.4,165.0 498.8,164.8 Z" fill="#1e1e1e"/>
<path d="M495.4,177.0 C494.8,177.1 492.9,176.4 492.5,176.0 C492.0,175.5 491.7,173.7 491.8,173.1 C491.9,172.4 492.6,170.8 493.1,170.4 C493.6,170.0 495.7,169.5 496.3,169.7 C496.9,169.9 498.3,171.5 498.5,172.2 C498.7,172.8 498.3,174.7 498.0,175.2 C497.6,175.8 496.1,176.9 495.4,177.0 Z" fill="#1e1e1e"/>
<path d="M514.0,167.5 C514.6,167.1 517.6,167.7 518.5,168.0 C519.4,168.4 521.2,169.9 521.5,170.7 C521.8,171.5 521.7,174.1 521.2,175.0 C520.8,175.8 518.5,177.7 517.6,177.8 C516.7,178.0 513.7,176.8 513.2,176.1 C512.7,175.4 513.2,172.9 513.3,171.9 C513.4,170.9 513.4,168.0 514.0,167.5 Z" fill="#1e1e1e"/>
<path d="M529.3,172.3 C528.6,172.7 526.6,173.5 525.9,173.3 C525.3,173.1 523.8,171.1 523.6,170.4 C523.5,169.7 524.1,167.7 524.6,167.2 C525.0,166.7 526.5,166.1 527.2,166.0 C527.9,165.9 530.1,165.8 530.6,166.3 C531.1,166.7 531.9,169.1 531.7,169.8 C531.6,170.5 530.0,171.9 529.3,172.3 Z" fill="#474747"/>
<path d="M512.6,177.8 C512.9,178.7 512.7,181.7 512.2,182.4 C511.6,183.1 509.1,183.9 508.2,184.0 C507.3,184.0 505.4,183.3 504.7,182.7 C504.0,182.2 502.4,180.1 502.5,179.2 C502.5,178.4 504.1,176.1 504.9,175.6 C505.7,175.2 508.2,175.0 509.0,175.2 C509.9,175.5 512.2,177.0 512.6,177.8 Z" fill="#474747"/>
<path d="M503.2,185.4 C502.9,186.0 500.5,187.3 499.7,187.3 C498.8,187.3 496.9,186.2 496.3,185.6 C495.7,185.0 494.4,183.0 494.5,182.2 C494.5,181.4 496.0,179.1 496.7,178.7 C497.4,178.3 500.0,178.5 500.7,178.8 C501.3,179.2 502.2,180.9 502.5,181.7 C502.8,182.4 503.5,184.7 503.2,185.4 Z" fill="#474747"/>
<path d="M509.8,125.2 C509.5,125.9 507.8,127.3 507.1,127.6 C506.4,127.9 504.3,128.1 503.6,127.8 C502.8,127.5 501.0,125.7 500.9,125.0 C500.8,124.3 502.4,122.5 502.9,121.9 C503.5,121.4 504.9,120.1 505.6,120.0 C506.3,120.0 508.4,121.0 508.8,121.6 C509.3,122.2 510.0,124.5 509.8,125.2 Z" fill="#707070"/>
<path d="M525.9,123.2 C525.9,122.6 526.2,121.2 526.6,120.8 C526.9,120.4 528.5,120.0 529.1,120.1 C529.7,120.2 531.4,120.9 531.7,121.4 C532.1,121.9 532.4,124.0 532.1,124.6 C531.9,125.1 530.1,125.9 529.4,126.0 C528.8,126.2 526.9,126.3 526.5,126.0 C526.1,125.7 525.9,123.8 525.9,123.2 Z" fill="#707070"/>
<path d="M539.9,154.5 C539.1,154.2 537.3,152.5 537.0,151.8 C536.8,151.1 537.2,148.9 537.5,148.3 C537.9,147.6 539.6,146.5 540.2,146.4 C540.9,146.2 542.7,146.9 543.2,147.3 C543.7,147.7 544.4,149.3 544.5,150.1 C544.6,150.8 544.4,153.1 543.8,153.7 C543.3,154.2 540.7,154.7 539.9,154.5 Z" fill="#474747"/>
<path d="M533.4,167.8 C533.0,167.3 532.1,165.4 532.3,164.9 C532.4,164.3 534.1,163.0 534.7,162.8 C535.4,162.6 537.1,162.9 537.6,163.2 C538.1,163.5 539.0,165.0 539.0,165.5 C539.1,166.1 538.4,167.4 538.0,167.8 C537.6,168.2 536.3,169.0 535.8,169.0 C535.3,169.0 533.8,168.3 533.4,167.8 Z" fill="#474747"/>
<ellipse cx="484.5" cy="100.5" rx="3.2" ry="6" transform="rotate(-15 484.5 100.5)" fill="#1e1e1e"/>
<ellipse cx="503.7" cy="101.9" rx="3.9" ry="5.5" transform="rotate(20 503.7 101.9)" fill="#1e1e1e"/>
<ellipse cx="483" cy="122.5" rx="5" ry="2.5" transform="rotate(-30 483 122.5)" fill="#1e1e1e"/>
<ellipse cx="498" cy="121" rx="4.5" ry="2.5" transform="rotate(30 498 121)" fill="#1e1e1e"/>
<ellipse cx="490.5" cy="118.5" rx="4" ry="2.2" transform="rotate(0 490.5 118.5)" fill="#474747"/>
</g></g>
<ellipse cx="621.9" cy="125" rx="57" ry="70" fill="#fafafa"/>
<ellipse cx="621.9" cy="125" rx="56" ry="69" fill="none" stroke="#efefef" stroke-width="1.5"/>
<clipPath id="cp2"><path d="M623.8,68.8 C619.3,68.6 615.5,67.4 611.4,68.3 C607.3,69.2 602.8,71.3 599.0,74.4 C595.2,77.5 591.6,82.3 588.7,86.8 C585.8,91.3 583.6,95.8 581.5,101.3 C579.4,106.8 577.3,113.6 576.3,119.8 C575.3,126.0 574.9,132.6 575.3,138.4 C575.6,144.2 576.5,149.8 578.4,154.9 C580.3,160.1 583.2,165.2 586.6,169.3 C590.0,173.4 594.5,177.5 599.0,179.6 C603.5,181.7 609.3,181.8 613.4,181.7 C617.5,181.6 620.3,179.0 623.8,179.0 C627.2,179.0 630.0,181.9 634.1,181.7 C638.2,181.5 644.0,180.3 648.5,177.6 C653.0,174.8 657.5,170.0 660.9,165.2 C664.3,160.4 667.2,154.5 669.1,148.7 C671.0,142.8 672.0,136.3 672.2,130.1 C672.4,123.9 671.8,117.8 670.2,111.6 C668.7,105.4 665.8,98.5 662.9,93.0 C660.0,87.5 656.7,82.5 652.6,78.6 C648.5,74.6 643.0,70.9 638.2,69.3 C633.4,67.7 628.3,69.0 623.8,68.8 Z"/></clipPath>
<path d="M623.8,68.8 C619.3,68.6 615.5,67.4 611.4,68.3 C607.3,69.2 602.8,71.3 599.0,74.4 C595.2,77.5 591.6,82.3 588.7,86.8 C585.8,91.3 583.6,95.8 581.5,101.3 C579.4,106.8 577.3,113.6 576.3,119.8 C575.3,126.0 574.9,132.6 575.3,138.4 C575.6,144.2 576.5,149.8 578.4,154.9 C580.3,160.1 583.2,165.2 586.6,169.3 C590.0,173.4 594.5,177.5 599.0,179.6 C603.5,181.7 609.3,181.8 613.4,181.7 C617.5,181.6 620.3,179.0 623.8,179.0 C627.2,179.0 630.0,181.9 634.1,181.7 C638.2,181.5 644.0,180.3 648.5,177.6 C653.0,174.8 657.5,170.0 660.9,165.2 C664.3,160.4 667.2,154.5 669.1,148.7 C671.0,142.8 672.0,136.3 672.2,130.1 C672.4,123.9 671.8,117.8 670.2,111.6 C668.7,105.4 665.8,98.5 662.9,93.0 C660.0,87.5 656.7,82.5 652.6,78.6 C648.5,74.6 643.0,70.9 638.2,69.3 C633.4,67.7 628.3,69.0 623.8,68.8 Z" fill="#ababab"/>
<g clip-path="url(#cp2)"><g filter="url(#bl)">
<path d="M623.8,68.8 C619.3,68.6 615.5,67.4 611.4,68.3 C607.3,69.2 602.8,71.3 599.0,74.4 C595.2,77.5 591.6,82.3 588.7,86.8 C585.8,91.3 583.6,95.8 581.5,101.3 C579.4,106.8 577.3,113.6 576.3,119.8 C575.3,126.0 574.9,132.6 575.3,138.4 C575.6,144.2 576.5,149.8 578.4,154.9 C580.3,160.1 583.2,165.2 586.6,169.3 C590.0,173.4 594.5,177.5 599.0,179.6 C603.5,181.7 609.3,181.8 613.4,181.7 C617.5,181.6 620.3,179.0 623.8,179.0 C627.2,179.0 630.0,181.9 634.1,181.7 C638.2,181.5 644.0,180.3 648.5,177.6 C653.0,174.8 657.5,170.0 660.9,165.2 C664.3,160.4 667.2,154.5 669.1,148.7 C671.0,142.8 672.0,136.3 672.2,130.1 C672.4,123.9 671.8,117.8 670.2,111.6 C668.7,105.4 665.8,98.5 662.9,93.0 C660.0,87.5 656.7,82.5 652.6,78.6 C648.5,74.6 643.0,70.9 638.2,69.3 C633.4,67.7 628.3,69.0 623.8,68.8 Z" fill="none" stroke="#4a4a4a" stroke-width="14"/>
<path d="M605.0,82.0 C607.3,79.3 611.5,81.0 614.0,84.0 C616.5,87.0 619.2,93.0 620.0,100.0 C620.8,107.0 620.3,119.3 619.0,126.0 C617.7,132.7 613.5,134.8 612.0,140.0 C610.5,145.2 612.0,154.2 610.0,157.0 C608.0,159.8 603.3,158.2 600.0,157.0 C596.7,155.8 592.0,153.7 590.0,150.0 C588.0,146.3 586.8,140.8 588.0,135.0 C589.2,129.2 595.0,120.8 597.0,115.0 C599.0,109.2 598.7,105.5 600.0,100.0 C601.3,94.5 602.7,84.7 605.0,82.0 Z" fill="#c6c6c6"/>
<path d="M634.0,85.0 C635.7,82.2 640.0,84.7 642.0,88.0 C644.0,91.3 644.3,100.0 646.0,105.0 C647.7,110.0 649.3,114.2 652.0,118.0 C654.7,121.8 660.3,122.7 662.0,128.0 C663.7,133.3 663.2,144.3 662.0,150.0 C660.8,155.7 658.3,160.0 655.0,162.0 C651.7,164.0 645.8,164.0 642.0,162.0 C638.2,160.0 634.0,155.8 632.0,150.0 C630.0,144.2 630.0,134.5 630.0,127.0 C630.0,119.5 631.3,112.0 632.0,105.0 C632.7,98.0 632.3,87.8 634.0,85.0 Z" fill="#c6c6c6"/>
<path d="M623,72 C625,95 623,110 624,125 C625,145 622,160 623,182" fill="none" stroke="#5e5e5e" stroke-width="8"/>
<path d="M610.2,70.0 C610.9,70.0 613.1,70.9 613.4,71.5 C613.8,72.1 613.4,74.1 613.2,74.9 C612.9,75.6 612.2,77.2 611.5,77.6 C610.9,77.9 608.5,78.4 607.9,78.0 C607.3,77.7 606.5,75.5 606.4,74.7 C606.3,73.9 606.4,71.8 606.9,71.3 C607.3,70.7 609.4,70.0 610.2,70.0 Z" fill="#1e1e1e"/>
<path d="M621.3,76.2 C620.9,76.7 618.4,77.1 617.6,77.0 C616.9,76.8 615.5,75.4 615.2,74.8 C614.9,74.3 614.8,72.7 615.0,72.0 C615.1,71.4 616.0,69.6 616.6,69.4 C617.2,69.1 619.5,69.3 620.0,69.7 C620.5,70.0 620.9,71.8 621.1,72.6 C621.2,73.3 621.7,75.7 621.3,76.2 Z" fill="#1e1e1e"/>
<path d="M607.0,80.7 C607.1,81.6 605.1,84.2 604.3,84.7 C603.5,85.3 601.3,85.2 600.3,85.1 C599.3,85.0 596.3,84.5 595.9,83.8 C595.4,83.1 595.9,80.0 596.3,79.0 C596.8,78.1 598.6,75.9 599.5,75.6 C600.4,75.4 603.1,76.3 604.0,76.9 C604.9,77.5 607.0,79.8 607.0,80.7 Z" fill="#1e1e1e"/>
<path d="M606.1,93.8 C605.1,93.7 602.0,92.0 601.6,91.1 C601.3,90.2 602.4,87.3 602.8,86.4 C603.3,85.4 604.7,83.3 605.5,83.0 C606.3,82.8 608.8,83.5 609.7,84.0 C610.6,84.6 612.9,86.6 613.0,87.5 C613.1,88.4 611.3,91.0 610.5,91.7 C609.7,92.5 607.2,93.9 606.1,93.8 Z" fill="#1e1e1e"/>
<path d="M598.2,80.9 C598.7,81.5 598.5,83.7 598.4,84.5 C598.3,85.3 597.7,87.4 597.2,87.7 C596.6,88.1 594.5,87.7 593.7,87.4 C592.9,87.1 590.9,86.0 590.7,85.4 C590.4,84.7 591.4,82.6 591.8,81.9 C592.3,81.2 593.9,79.8 594.6,79.7 C595.4,79.5 597.8,80.4 598.2,80.9 Z" fill="#474747"/>
<path d="M593.2,94.9 C592.4,94.8 590.4,93.8 589.9,93.1 C589.4,92.4 588.7,89.5 589.0,88.7 C589.4,88.0 592.1,86.8 592.9,86.7 C593.8,86.6 595.6,87.6 596.3,88.1 C596.9,88.5 598.5,90.2 598.5,90.9 C598.6,91.6 597.2,93.7 596.6,94.2 C596.0,94.6 594.0,95.1 593.2,94.9 Z" fill="#1e1e1e"/>
<path d="M584.7,95.6 C584.9,94.8 586.8,93.2 587.5,92.9 C588.3,92.7 590.5,93.1 591.1,93.5 C591.7,94.0 592.6,95.7 592.8,96.5 C592.9,97.3 593.0,99.8 592.5,100.4 C592.0,101.0 589.3,101.7 588.5,101.6 C587.7,101.4 586.2,99.8 585.7,99.1 C585.3,98.4 584.5,96.3 584.7,95.6 Z" fill="#474747"/>
<path d="M600.5,94.0 C601.3,94.2 603.3,94.4 603.7,94.9 C604.1,95.5 604.1,97.8 603.9,98.6 C603.6,99.3 601.9,101.0 601.2,101.2 C600.5,101.3 598.6,100.4 597.9,100.0 C597.3,99.5 596.0,98.0 595.9,97.3 C595.8,96.5 596.5,94.1 597.1,93.8 C597.6,93.4 599.7,93.9 600.5,94.0 Z" fill="#707070"/>
<path d="M586.8,106.5 C586.8,107.2 585.6,108.6 585.1,109.1 C584.6,109.6 583.2,110.8 582.6,110.8 C582.0,110.8 580.1,109.7 579.7,109.1 C579.2,108.5 578.6,106.3 578.8,105.6 C579.0,104.8 580.8,103.0 581.5,102.8 C582.2,102.6 584.3,103.4 584.9,103.9 C585.6,104.3 586.7,105.9 586.8,106.5 Z" fill="#1e1e1e"/>
<path d="M586.1,108.2 C586.3,107.1 587.5,104.6 588.3,104.1 C589.1,103.7 591.9,104.1 592.8,104.5 C593.8,104.9 596.0,106.7 596.2,107.5 C596.4,108.3 595.1,110.7 594.5,111.4 C593.9,112.2 592.2,113.8 591.3,114.0 C590.4,114.2 587.0,113.8 586.4,113.1 C585.8,112.5 585.9,109.2 586.1,108.2 Z" fill="#1e1e1e"/>
<path d="M594.1,117.7 C593.3,117.3 591.8,114.7 591.6,113.6 C591.5,112.6 592.1,109.6 592.8,108.9 C593.5,108.1 596.6,107.0 597.6,107.1 C598.7,107.3 601.5,109.0 602.0,109.8 C602.4,110.7 601.9,113.7 601.5,114.6 C601.1,115.4 599.4,117.0 598.6,117.4 C597.7,117.7 594.9,118.1 594.1,117.7 Z" fill="#1e1e1e"/>
<path d="M616.8,93.7 C618.0,93.5 621.6,94.1 622.3,94.9 C623.0,95.6 622.7,99.1 622.5,100.1 C622.3,101.1 621.4,103.0 620.7,103.6 C620.0,104.3 617.5,106.0 616.5,105.9 C615.4,105.8 612.3,103.8 611.8,102.8 C611.2,101.7 611.2,97.8 611.8,96.8 C612.3,95.7 615.5,94.0 616.8,93.7 Z" fill="#1e1e1e"/>
<path d="M616.9,101.7 C617.7,101.8 619.2,103.1 619.8,103.7 C620.3,104.3 621.7,106.1 621.6,107.0 C621.6,107.8 620.1,110.3 619.4,110.6 C618.6,111.0 616.0,110.3 615.2,109.9 C614.4,109.5 612.6,108.0 612.3,107.2 C612.0,106.3 612.3,103.4 612.8,102.8 C613.4,102.2 616.1,101.6 616.9,101.7 Z" fill="#474747"/>
<path d="M624.1,81.2 C623.9,81.9 622.0,83.0 621.3,83.2 C620.6,83.4 618.8,83.4 618.2,83.1 C617.7,82.8 617.0,81.2 616.9,80.5 C616.7,79.8 616.7,77.9 617.1,77.4 C617.5,76.9 619.5,76.1 620.3,76.1 C621.0,76.1 623.1,76.9 623.5,77.5 C624.0,78.1 624.4,80.6 624.1,81.2 Z" fill="#474747"/>
<path d="M619.5,91.7 C618.8,92.1 616.9,93.3 616.3,93.1 C615.7,92.9 614.3,90.8 614.1,90.1 C614.0,89.4 614.9,87.7 615.3,87.1 C615.7,86.4 617.2,84.5 617.8,84.5 C618.4,84.5 619.9,86.3 620.4,86.9 C620.8,87.5 621.8,89.1 621.7,89.6 C621.6,90.2 620.1,91.3 619.5,91.7 Z" fill="#474747"/>
<path d="M581.9,119.4 C581.3,119.3 580.1,118.3 579.7,117.8 C579.2,117.3 577.7,115.6 577.8,114.9 C577.9,114.2 579.4,112.2 580.1,111.9 C580.9,111.6 583.3,111.9 583.9,112.3 C584.5,112.7 585.0,114.7 585.1,115.4 C585.3,116.1 585.2,117.9 584.8,118.4 C584.5,118.8 582.5,119.4 581.9,119.4 Z" fill="#707070"/>
<path d="M576.8,125.3 C576.2,124.9 575.0,123.0 575.0,122.3 C574.9,121.6 576.0,119.7 576.5,119.3 C577.0,118.9 578.8,118.6 579.5,118.7 C580.2,118.7 582.5,119.3 582.8,119.8 C583.1,120.3 582.4,122.5 582.0,123.2 C581.7,123.9 580.7,125.2 580.1,125.4 C579.4,125.7 577.4,125.6 576.8,125.3 Z" fill="#474747"/>
<path d="M586.7,122.4 C586.6,121.6 586.8,119.7 587.2,119.2 C587.7,118.7 589.7,118.1 590.5,118.1 C591.3,118.1 593.6,119.0 594.0,119.5 C594.3,120.1 593.5,122.4 593.2,123.2 C593.0,124.0 592.1,126.1 591.5,126.4 C590.9,126.7 588.4,125.9 587.8,125.4 C587.2,125.0 586.7,123.1 586.7,122.4 Z" fill="#707070"/>
<path d="M622.5,90.2 C621.9,90.1 620.3,89.2 620.0,88.7 C619.7,88.2 619.5,86.2 619.7,85.7 C620.0,85.2 621.7,84.8 622.3,84.6 C622.9,84.4 624.4,84.0 624.9,84.3 C625.3,84.5 626.1,86.1 626.2,86.8 C626.2,87.4 626.0,89.4 625.5,89.8 C625.1,90.2 623.1,90.4 622.5,90.2 Z" fill="#707070"/>
<path d="M585.2,95.5 C584.6,95.4 583.2,94.0 583.0,93.4 C582.8,92.9 583.1,91.3 583.3,90.7 C583.6,90.2 584.7,88.9 585.3,88.7 C585.8,88.6 587.6,89.0 588.1,89.4 C588.6,89.8 589.4,91.4 589.4,92.0 C589.4,92.6 588.7,94.3 588.2,94.7 C587.7,95.1 585.8,95.7 585.2,95.5 Z" fill="#474747"/>
<path d="M578.0,108.9 C578.5,108.6 580.4,108.6 581.1,108.8 C581.7,109.0 583.3,110.1 583.5,110.7 C583.7,111.3 583.3,113.3 582.9,113.8 C582.5,114.3 580.9,114.8 580.4,114.9 C579.8,114.9 578.3,114.6 577.8,114.2 C577.4,113.8 576.7,112.3 576.7,111.7 C576.8,111.0 577.5,109.2 578.0,108.9 Z" fill="#474747"/>
<path d="M629.6,67.4 C630.5,67.4 632.2,67.7 632.8,68.2 C633.5,68.6 635.0,70.9 634.9,71.6 C634.8,72.3 632.7,73.9 632.0,74.2 C631.3,74.5 629.5,74.7 628.8,74.5 C628.0,74.3 626.1,73.2 625.7,72.5 C625.3,71.7 625.0,68.7 625.4,68.1 C625.9,67.5 628.7,67.4 629.6,67.4 Z" fill="#1e1e1e"/>
<path d="M619.6,74.1 C619.7,73.4 621.3,71.4 622.0,71.1 C622.7,70.9 624.6,71.6 625.4,71.9 C626.1,72.2 628.0,73.3 628.2,73.9 C628.4,74.5 627.5,76.6 627.0,77.3 C626.5,77.9 624.9,79.3 624.1,79.3 C623.4,79.4 621.3,78.3 620.8,77.7 C620.2,77.1 619.4,74.9 619.6,74.1 Z" fill="#474747"/>
<path d="M635.1,80.1 C634.2,79.6 631.7,78.3 631.7,77.6 C631.6,77.0 633.7,75.1 634.4,74.4 C635.1,73.7 636.8,71.7 637.6,71.6 C638.4,71.6 640.9,73.4 641.4,74.2 C641.8,75.0 641.9,77.7 641.6,78.6 C641.3,79.5 639.6,81.9 638.8,82.1 C638.0,82.3 635.9,80.6 635.1,80.1 Z" fill="#474747"/>
<path d="M650.0,81.0 C650.1,81.8 648.8,83.9 648.2,84.7 C647.6,85.4 645.6,87.1 644.9,87.0 C644.2,87.0 642.8,84.8 642.3,84.1 C641.8,83.4 640.5,81.6 640.6,80.9 C640.7,80.2 642.4,78.4 643.2,78.1 C644.0,77.7 646.4,77.4 647.2,77.7 C647.9,78.1 649.8,80.2 650.0,81.0 Z" fill="#1e1e1e"/>
<path d="M648.8,84.9 C649.7,84.5 652.2,84.0 653.0,84.3 C653.9,84.6 656.0,86.8 656.2,87.6 C656.3,88.4 654.5,90.5 653.9,91.2 C653.3,91.8 651.8,92.9 651.2,92.9 C650.5,92.9 649.0,91.8 648.4,91.3 C647.8,90.7 645.8,88.8 645.9,88.0 C645.9,87.3 648.0,85.4 648.8,84.9 Z" fill="#1e1e1e"/>
<path d="M634.1,92.0 C634.4,91.3 637.1,90.4 637.9,90.3 C638.7,90.2 640.3,90.7 641.0,91.1 C641.8,91.5 643.9,92.9 644.1,93.7 C644.3,94.5 643.2,97.4 642.5,97.9 C641.9,98.4 639.2,98.2 638.4,98.0 C637.5,97.8 635.8,96.8 635.3,96.1 C634.8,95.4 633.8,92.7 634.1,92.0 Z" fill="#1e1e1e"/>
<path d="M649.9,101.7 C649.2,102.2 646.0,101.8 645.1,101.5 C644.1,101.2 641.8,100.0 641.5,99.3 C641.2,98.6 641.9,96.2 642.2,95.3 C642.6,94.3 643.8,91.4 644.6,91.2 C645.3,91.0 647.8,93.0 648.6,93.7 C649.3,94.3 650.8,96.0 651.0,96.9 C651.1,97.8 650.6,101.2 649.9,101.7 Z" fill="#1e1e1e"/>
<path d="M628.0,79.3 C628.5,78.9 631.1,78.5 631.8,78.8 C632.4,79.1 633.3,81.2 633.5,82.0 C633.7,82.8 633.8,85.0 633.4,85.5 C633.0,86.0 630.9,86.2 630.2,86.2 C629.4,86.2 627.6,85.9 627.3,85.4 C626.9,85.0 626.9,83.2 626.9,82.5 C627.0,81.8 627.4,79.7 628.0,79.3 Z" fill="#474747"/>
<path d="M624.4,93.2 C624.3,92.4 624.4,90.0 624.9,89.6 C625.4,89.2 627.7,89.9 628.5,90.1 C629.2,90.2 630.8,90.7 631.1,91.2 C631.5,91.7 631.6,93.7 631.4,94.4 C631.2,95.1 630.0,97.1 629.3,97.4 C628.6,97.7 626.1,97.1 625.5,96.6 C624.9,96.2 624.4,94.1 624.4,93.2 Z" fill="#707070"/>
<path d="M635.0,108.6 C634.5,109.4 631.5,110.7 630.3,110.8 C629.1,110.9 625.4,110.4 624.8,109.6 C624.1,108.8 624.4,105.2 624.8,104.1 C625.1,103.0 626.6,100.6 627.4,100.2 C628.2,99.8 631.1,100.1 631.9,100.5 C632.7,100.9 634.2,102.8 634.5,103.7 C634.9,104.7 635.5,107.8 635.0,108.6 Z" fill="#1e1e1e"/>
<path d="M626.2,102.0 C626.7,102.3 628.0,104.1 628.1,104.8 C628.1,105.5 627.3,107.5 626.7,108.0 C626.2,108.5 624.0,109.1 623.3,108.9 C622.7,108.7 621.8,107.1 621.4,106.4 C621.0,105.8 619.8,103.9 620.0,103.4 C620.2,102.8 622.4,101.9 623.1,101.8 C623.8,101.6 625.6,101.6 626.2,102.0 Z" fill="#474747"/>
<path d="M662.7,107.7 C662.1,108.2 659.5,108.1 658.5,108.0 C657.5,107.9 654.6,107.6 654.2,107.0 C653.7,106.4 654.5,103.4 654.9,102.5 C655.3,101.7 656.7,100.2 657.6,99.8 C658.4,99.4 661.5,98.6 662.2,99.0 C662.9,99.4 663.6,102.5 663.6,103.5 C663.7,104.5 663.3,107.2 662.7,107.7 Z" fill="#1e1e1e"/>
<path d="M656.1,115.4 C655.4,115.9 652.1,114.6 650.9,114.3 C649.7,113.9 646.3,113.5 645.9,112.7 C645.6,112.0 647.2,108.7 647.8,107.8 C648.4,106.9 650.2,105.6 651.1,105.4 C652.0,105.2 654.6,105.6 655.3,106.1 C655.9,106.7 656.8,109.1 656.8,110.1 C656.9,111.2 656.8,114.9 656.1,115.4 Z" fill="#1e1e1e"/>
<path d="M645.4,107.5 C645.9,107.2 647.3,107.1 648.0,107.2 C648.6,107.3 650.9,108.1 651.1,108.6 C651.3,109.1 650.3,111.2 649.8,111.8 C649.4,112.4 648.0,113.4 647.4,113.5 C646.8,113.5 645.1,112.7 644.7,112.3 C644.3,111.8 643.9,110.2 644.0,109.7 C644.1,109.1 645.0,107.8 645.4,107.5 Z" fill="#474747"/>
<path d="M663.8,108.2 C664.5,108.1 666.7,108.7 667.2,109.2 C667.6,109.7 667.8,111.9 667.7,112.6 C667.6,113.4 666.7,115.4 666.1,115.8 C665.5,116.1 663.1,115.9 662.5,115.5 C661.9,115.2 661.2,113.5 661.0,112.9 C660.8,112.2 660.6,110.3 660.9,109.8 C661.2,109.2 663.1,108.2 663.8,108.2 Z" fill="#474747"/>
<path d="M668.8,119.0 C669.1,119.6 669.9,121.6 669.7,122.3 C669.4,122.9 667.3,124.4 666.5,124.4 C665.8,124.5 663.8,123.3 663.3,122.7 C662.8,122.2 662.3,120.4 662.3,119.6 C662.3,118.8 663.0,116.4 663.5,116.1 C664.1,115.8 666.4,116.8 667.0,117.1 C667.6,117.5 668.5,118.4 668.8,119.0 Z" fill="#707070"/>
<path d="M654.4,122.5 C654.3,121.7 654.6,119.6 655.0,119.1 C655.5,118.6 657.6,118.2 658.3,118.2 C659.1,118.3 661.5,119.0 661.8,119.5 C662.1,120.1 661.2,122.3 660.9,123.0 C660.6,123.6 659.6,124.6 659.1,124.9 C658.5,125.2 656.5,125.7 655.9,125.4 C655.4,125.1 654.5,123.2 654.4,122.5 Z" fill="#474747"/>
<path d="M627.1,118.4 C626.9,119.0 625.7,120.7 625.0,120.9 C624.4,121.1 622.2,120.6 621.7,120.1 C621.2,119.7 620.6,117.9 620.5,117.1 C620.4,116.3 620.5,113.9 621.0,113.5 C621.4,113.0 624.0,113.0 624.7,113.2 C625.5,113.4 627.0,114.7 627.3,115.3 C627.6,115.9 627.4,117.7 627.1,118.4 Z" fill="#474747"/>
<path d="M623.6,122.1 C623.9,121.5 625.3,119.9 626.0,119.8 C626.6,119.7 629.0,120.6 629.4,121.2 C629.9,121.8 630.2,124.1 630.0,124.9 C629.8,125.6 628.6,127.5 627.9,127.8 C627.2,128.2 624.8,128.2 624.2,127.8 C623.6,127.4 622.9,125.4 622.8,124.8 C622.7,124.1 623.2,122.7 623.6,122.1 Z" fill="#707070"/>
<path d="M653.4,96.8 C653.2,96.3 653.3,94.8 653.6,94.4 C653.8,93.9 655.2,93.0 655.8,92.9 C656.3,92.9 657.9,93.5 658.2,93.9 C658.5,94.3 658.6,95.8 658.5,96.4 C658.5,96.9 658.0,98.3 657.5,98.6 C657.1,99.0 655.3,99.4 654.8,99.2 C654.3,99.0 653.5,97.4 653.4,96.8 Z" fill="#474747"/>
<path d="M577.0,133.0 C576.2,132.3 573.9,130.1 574.0,129.3 C574.1,128.6 576.9,127.1 577.8,126.6 C578.8,126.0 581.2,124.2 581.9,124.5 C582.6,124.7 583.7,127.7 583.9,128.6 C584.1,129.5 583.9,131.4 583.5,132.2 C583.1,133.0 581.4,135.5 580.7,135.6 C579.9,135.7 577.8,133.8 577.0,133.0 Z" fill="#474747"/>
<path d="M591.7,125.8 C592.5,126.1 594.2,127.9 594.4,128.7 C594.7,129.5 594.2,132.0 593.7,132.6 C593.2,133.2 591.0,134.1 590.2,134.1 C589.5,134.1 587.8,133.0 587.3,132.5 C586.8,131.9 585.9,130.1 585.9,129.3 C586.0,128.6 587.0,126.2 587.7,125.8 C588.3,125.4 590.9,125.5 591.7,125.8 Z" fill="#474747"/>
<path d="M578.0,134.8 C578.8,134.7 581.2,136.2 581.8,137.0 C582.4,137.7 583.5,140.4 583.3,141.2 C583.0,142.1 580.8,143.9 580.0,144.2 C579.2,144.5 577.0,144.1 576.2,143.7 C575.4,143.4 573.7,141.7 573.5,141.0 C573.4,140.3 574.5,138.3 575.0,137.6 C575.5,136.9 577.2,134.9 578.0,134.8 Z" fill="#474747"/>
<path d="M581.6,143.3 C582.4,142.9 584.3,142.9 585.3,143.0 C586.2,143.2 589.2,144.2 589.5,144.9 C589.8,145.7 588.6,148.5 588.1,149.4 C587.5,150.3 585.7,152.5 584.8,152.6 C583.9,152.8 581.2,151.5 580.4,150.8 C579.6,150.1 578.1,147.4 578.2,146.5 C578.4,145.6 580.7,143.7 581.6,143.3 Z" fill="#1e1e1e"/>
<path d="M598.5,140.9 C599.4,141.5 600.8,144.5 600.8,145.6 C600.8,146.6 599.4,149.2 598.6,149.9 C597.9,150.6 595.0,151.6 594.2,151.3 C593.4,151.1 592.1,148.9 591.6,148.0 C591.0,147.1 589.1,144.7 589.3,143.8 C589.5,142.9 592.2,140.8 593.3,140.4 C594.3,140.1 597.6,140.3 598.5,140.9 Z" fill="#1e1e1e"/>
<path d="M600.6,153.8 C599.7,153.7 597.3,153.2 596.9,152.6 C596.5,152.0 596.9,149.4 597.2,148.7 C597.5,147.9 599.0,146.3 599.6,146.1 C600.3,145.9 602.1,146.7 602.8,147.1 C603.6,147.5 606.0,148.7 606.2,149.4 C606.3,150.1 604.9,152.7 604.2,153.2 C603.6,153.7 601.4,153.8 600.6,153.8 Z" fill="#474747"/>
<path d="M591.9,155.5 C591.5,155.1 590.6,153.5 590.8,153.1 C590.9,152.6 592.5,152.0 593.0,151.7 C593.6,151.5 595.3,150.7 595.7,150.9 C596.1,151.1 596.6,152.9 596.7,153.5 C596.8,154.1 596.6,155.6 596.3,156.0 C596.0,156.4 594.4,157.0 593.9,156.9 C593.3,156.9 592.2,156.0 591.9,155.5 Z" fill="#1e1e1e"/>
<path d="M578.7,157.6 C578.0,157.0 576.9,154.5 577.0,153.6 C577.1,152.7 578.7,150.6 579.4,150.2 C580.2,149.9 582.4,150.3 583.1,150.6 C583.8,150.9 585.0,152.1 585.3,152.7 C585.5,153.4 585.5,155.2 585.2,155.9 C584.9,156.6 583.4,158.4 582.7,158.6 C581.9,158.8 579.3,158.2 578.7,157.6 Z" fill="#474747"/>
<path d="M588.4,154.0 C589.0,153.6 591.1,153.0 591.7,153.3 C592.3,153.5 593.5,155.4 593.7,156.1 C593.8,156.7 593.4,158.7 593.0,159.2 C592.5,159.7 590.8,160.3 590.1,160.4 C589.4,160.5 587.1,160.2 586.8,159.7 C586.4,159.3 586.7,157.1 586.9,156.4 C587.1,155.7 587.9,154.3 588.4,154.0 Z" fill="#474747"/>
<path d="M589.9,165.9 C589.4,165.1 588.7,162.4 589.1,161.6 C589.4,160.8 591.9,159.3 592.9,159.1 C593.9,158.9 596.8,159.2 597.4,159.8 C598.0,160.3 598.1,163.1 598.0,164.0 C598.0,165.0 597.6,167.2 597.0,167.8 C596.4,168.4 593.6,169.4 592.8,169.2 C591.9,168.9 590.3,166.8 589.9,165.9 Z" fill="#1e1e1e"/>
<path d="M590.4,167.2 C590.3,167.8 589.4,169.3 588.9,169.7 C588.4,170.0 586.7,170.2 586.1,170.0 C585.6,169.9 584.2,168.9 583.9,168.3 C583.6,167.8 583.6,165.8 583.9,165.3 C584.2,164.8 585.8,164.3 586.5,164.1 C587.2,163.9 589.3,163.5 589.8,163.8 C590.3,164.2 590.6,166.5 590.4,167.2 Z" fill="#474747"/>
<path d="M604.3,164.7 C603.8,165.0 602.1,165.4 601.6,165.2 C601.0,164.9 600.1,163.4 599.9,162.8 C599.8,162.1 599.7,160.3 600.1,159.8 C600.5,159.3 602.4,158.3 602.9,158.4 C603.5,158.5 604.5,159.9 605.0,160.4 C605.4,160.9 606.7,162.3 606.6,162.8 C606.5,163.3 604.9,164.4 604.3,164.7 Z" fill="#474747"/>
<path d="M602.9,170.8 C602.7,171.5 602.4,173.8 601.8,174.2 C601.2,174.5 598.6,174.3 597.9,173.9 C597.2,173.5 596.2,171.5 596.1,170.7 C596.0,170.0 596.6,168.0 597.0,167.4 C597.5,166.9 599.5,165.8 600.2,165.8 C600.9,165.9 602.6,167.3 603.0,167.8 C603.3,168.4 603.0,170.0 602.9,170.8 Z" fill="#474747"/>
<path d="M597.2,176.0 C596.8,176.4 595.5,177.4 594.8,177.5 C594.2,177.6 591.9,177.1 591.5,176.5 C591.1,176.0 590.9,173.7 591.1,172.9 C591.4,172.1 592.6,170.3 593.3,170.0 C594.0,169.6 596.6,169.6 597.2,170.0 C597.7,170.4 598.0,172.8 598.0,173.5 C598.0,174.2 597.6,175.5 597.2,176.0 Z" fill="#1e1e1e"/>
<path d="M606.9,175.2 C607.5,175.6 608.9,177.0 608.9,177.7 C609.0,178.3 608.2,180.4 607.6,180.8 C607.1,181.3 605.1,181.7 604.5,181.6 C603.8,181.5 602.3,180.3 602.0,179.7 C601.7,179.2 601.5,177.3 601.7,176.7 C601.9,176.1 603.3,174.8 603.9,174.7 C604.6,174.5 606.3,174.9 606.9,175.2 Z" fill="#474747"/>
<path d="M617.5,176.4 C616.7,176.8 614.3,176.2 613.4,175.9 C612.6,175.5 610.5,174.3 610.1,173.5 C609.7,172.6 609.5,169.3 610.1,168.6 C610.6,167.8 613.6,167.3 614.7,167.3 C615.7,167.3 618.4,167.6 619.1,168.2 C619.8,168.9 620.9,172.0 620.7,172.9 C620.6,173.9 618.4,176.1 617.5,176.4 Z" fill="#707070"/>
<path d="M619.3,160.9 C619.9,161.2 620.9,162.6 621.1,163.2 C621.2,163.8 621.0,165.4 620.6,165.9 C620.3,166.5 618.8,167.9 618.2,168.0 C617.5,168.1 615.3,167.3 614.8,166.8 C614.3,166.2 613.8,163.9 614.0,163.3 C614.2,162.6 615.9,161.4 616.5,161.1 C617.1,160.9 618.8,160.7 619.3,160.9 Z" fill="#1e1e1e"/>
<path d="M617.7,144.0 C618.7,144.1 621.4,145.3 621.9,146.1 C622.4,147.0 622.7,150.2 622.3,151.0 C621.9,151.9 619.5,153.4 618.5,153.7 C617.5,154.1 614.4,154.5 613.6,154.0 C612.8,153.5 611.8,150.5 611.8,149.4 C611.8,148.4 612.6,145.7 613.3,145.1 C614.0,144.4 616.7,143.9 617.7,144.0 Z" fill="#1e1e1e"/>
<path d="M615.8,132.8 C616.4,132.1 619.7,131.4 620.6,131.7 C621.5,131.9 623.2,133.9 623.6,134.7 C624.0,135.5 624.1,137.5 623.8,138.3 C623.6,139.1 622.4,141.4 621.6,141.7 C620.9,142.0 618.3,141.4 617.6,140.9 C616.8,140.4 615.7,138.5 615.5,137.5 C615.3,136.6 615.2,133.5 615.8,132.8 Z" fill="#474747"/>
<path d="M617.6,132.3 C617.3,133.0 615.7,134.1 615.1,134.3 C614.4,134.5 612.4,134.5 612.0,134.1 C611.5,133.8 611.1,132.0 611.0,131.3 C610.9,130.6 610.6,128.2 611.0,127.8 C611.3,127.5 613.6,127.9 614.4,128.0 C615.2,128.1 617.4,128.2 617.8,128.7 C618.2,129.2 617.9,131.7 617.6,132.3 Z" fill="#707070"/>
<path d="M624.5,153.8 C625.0,154.3 625.8,156.2 625.8,157.0 C625.8,157.7 624.9,159.4 624.4,159.9 C623.8,160.3 621.9,160.9 621.2,160.8 C620.5,160.7 618.5,159.6 618.1,158.9 C617.8,158.3 617.6,155.7 617.9,155.1 C618.3,154.5 620.4,153.5 621.1,153.4 C621.9,153.2 623.9,153.4 624.5,153.8 Z" fill="#474747"/>
<path d="M586.2,172.8 C586.8,173.1 587.6,174.6 587.8,175.1 C587.9,175.7 587.9,177.4 587.6,177.8 C587.3,178.2 585.7,178.7 585.2,178.7 C584.7,178.6 583.5,178.1 583.1,177.7 C582.8,177.4 582.4,176.2 582.4,175.6 C582.4,175.0 582.7,173.1 583.1,172.7 C583.6,172.4 585.7,172.6 586.2,172.8 Z" fill="#474747"/>
<path d="M620.1,144.8 C619.2,144.2 617.7,140.7 617.7,139.5 C617.7,138.4 619.5,135.8 620.3,135.1 C621.1,134.4 623.7,133.4 624.8,133.5 C625.8,133.5 628.7,135.0 629.3,135.9 C629.9,136.8 630.1,140.1 629.8,141.2 C629.4,142.3 627.1,144.7 626.0,145.1 C624.8,145.5 621.1,145.4 620.1,144.8 Z" fill="#1e1e1e"/>
<path d="M627.6,153.0 C626.8,153.5 624.4,153.6 623.5,153.3 C622.7,153.1 620.7,151.5 620.4,150.7 C620.1,149.9 620.5,147.4 621.0,146.6 C621.5,145.7 623.4,143.9 624.3,143.7 C625.3,143.5 628.3,144.2 629.0,144.9 C629.7,145.6 630.6,148.6 630.4,149.5 C630.2,150.5 628.4,152.6 627.6,153.0 Z" fill="#474747"/>
<path d="M634.8,155.7 C634.3,156.6 633.2,159.1 632.4,159.3 C631.6,159.5 629.1,158.3 628.3,157.7 C627.5,157.1 625.5,155.1 625.4,154.2 C625.3,153.3 626.7,150.6 627.5,149.9 C628.2,149.2 631.1,147.9 632.1,148.1 C633.2,148.2 636.0,150.4 636.3,151.2 C636.6,152.1 635.2,154.7 634.8,155.7 Z" fill="#474747"/>
<path d="M622.0,167.4 C621.5,167.0 620.9,165.2 620.9,164.5 C620.8,163.8 621.0,162.2 621.4,161.6 C621.8,161.0 623.6,159.4 624.3,159.4 C625.0,159.4 627.1,161.0 627.4,161.7 C627.8,162.3 627.7,164.4 627.5,165.1 C627.2,165.8 626.1,167.4 625.5,167.7 C624.8,168.0 622.6,167.8 622.0,167.4 Z" fill="#474747"/>
<path d="M669.3,125.2 C669.6,126.1 669.6,128.5 669.2,129.3 C668.8,130.2 666.9,132.4 665.9,132.7 C665.0,132.9 661.9,132.0 661.1,131.3 C660.4,130.6 659.5,127.7 659.5,126.7 C659.6,125.6 660.8,122.8 661.6,122.2 C662.5,121.6 665.7,121.2 666.6,121.6 C667.5,121.9 669.0,124.3 669.3,125.2 Z" fill="#1e1e1e"/>
<path d="M655.2,129.9 C655.9,129.5 658.5,129.4 659.2,129.8 C659.9,130.2 661.1,132.4 661.2,133.2 C661.3,134.0 660.6,136.2 660.1,136.7 C659.6,137.3 657.5,138.2 656.8,138.2 C656.1,138.1 654.4,136.8 653.9,136.2 C653.5,135.6 653.1,133.7 653.3,133.0 C653.4,132.2 654.5,130.2 655.2,129.9 Z" fill="#1e1e1e"/>
<path d="M671.2,137.6 C671.4,138.4 670.7,140.5 670.3,141.1 C669.8,141.7 668.1,142.6 667.4,142.7 C666.7,142.7 665.1,142.0 664.5,141.5 C663.8,141.0 661.8,139.0 661.9,138.4 C662.0,137.7 664.3,136.4 665.1,135.9 C665.9,135.4 668.0,134.1 668.7,134.3 C669.4,134.5 671.0,136.8 671.2,137.6 Z" fill="#474747"/>
<path d="M666.7,142.5 C667.2,142.9 667.4,145.7 667.5,146.5 C667.5,147.4 667.4,149.2 667.0,149.8 C666.5,150.5 664.3,152.1 663.6,152.0 C662.9,151.9 661.4,149.8 660.9,149.0 C660.5,148.3 659.8,146.4 660.0,145.7 C660.2,145.1 661.9,143.9 662.7,143.5 C663.4,143.1 666.1,142.2 666.7,142.5 Z" fill="#1e1e1e"/>
<path d="M656.4,148.6 C657.2,149.0 659.0,151.4 659.0,152.2 C659.0,153.0 657.4,154.9 656.8,155.5 C656.2,156.1 654.5,157.3 653.7,157.3 C653.0,157.3 651.0,156.1 650.5,155.4 C650.0,154.8 649.2,152.4 649.4,151.6 C649.6,150.9 651.7,149.7 652.5,149.4 C653.4,149.0 655.7,148.3 656.4,148.6 Z" fill="#1e1e1e"/>
<path d="M647.8,159.2 C647.5,158.5 647.1,156.4 647.4,155.8 C647.7,155.2 649.8,154.4 650.5,154.3 C651.3,154.3 653.2,154.8 653.7,155.2 C654.1,155.7 654.5,157.6 654.5,158.3 C654.4,159.1 653.9,161.3 653.4,161.6 C652.8,162.0 650.5,161.8 649.8,161.6 C649.2,161.3 648.1,159.8 647.8,159.2 Z" fill="#474747"/>
<path d="M664.1,153.4 C664.9,153.8 667.1,155.4 667.3,156.3 C667.5,157.1 666.6,160.1 665.9,160.7 C665.3,161.3 662.5,161.5 661.6,161.3 C660.8,161.2 659.1,159.9 658.7,159.2 C658.3,158.6 657.8,156.5 658.0,155.7 C658.2,155.0 659.7,153.1 660.4,152.8 C661.1,152.5 663.3,153.0 664.1,153.4 Z" fill="#474747"/>
<path d="M647.7,163.8 C647.9,164.7 647.1,168.0 646.5,168.7 C645.8,169.3 642.9,169.3 641.9,169.2 C641.0,169.1 639.1,168.4 638.5,167.8 C637.9,167.1 636.6,164.7 636.8,163.7 C636.9,162.8 638.6,160.0 639.5,159.6 C640.4,159.2 643.4,159.9 644.3,160.3 C645.3,160.8 647.4,162.8 647.7,163.8 Z" fill="#1e1e1e"/>
<path d="M658.5,168.6 C658.2,169.3 655.8,170.5 655.1,170.4 C654.4,170.4 652.9,168.8 652.4,168.2 C651.9,167.6 650.7,165.8 650.8,165.2 C650.9,164.6 652.7,163.4 653.4,163.0 C654.1,162.6 656.3,161.6 656.8,161.9 C657.4,162.1 657.9,164.4 658.1,165.2 C658.3,166.0 658.9,168.0 658.5,168.6 Z" fill="#474747"/>
<path d="M641.4,174.3 C641.1,173.5 642.6,170.7 643.1,169.9 C643.7,169.0 645.4,167.3 646.2,167.1 C647.0,167.0 649.6,167.9 650.1,168.5 C650.7,169.1 651.1,171.4 651.0,172.2 C650.9,173.0 650.0,174.7 649.3,175.3 C648.7,175.8 646.5,177.0 645.6,176.9 C644.7,176.8 641.6,175.2 641.4,174.3 Z" fill="#474747"/>
<path d="M637.4,182.7 C636.7,182.7 634.8,181.1 634.4,180.5 C634.0,179.9 634.0,178.3 634.1,177.6 C634.1,176.9 634.1,174.5 634.7,174.1 C635.2,173.7 637.8,173.6 638.5,173.9 C639.3,174.2 640.6,176.0 640.9,176.7 C641.1,177.5 641.0,179.7 640.6,180.4 C640.2,181.1 638.1,182.6 637.4,182.7 Z" fill="#474747"/>
<path d="M632.2,176.6 C631.8,177.1 629.9,178.4 629.2,178.3 C628.5,178.2 626.6,176.6 626.3,175.9 C626.1,175.3 626.8,173.4 627.1,172.7 C627.4,172.0 628.3,170.2 628.9,170.0 C629.5,169.8 631.8,170.6 632.2,171.0 C632.7,171.5 632.9,173.3 632.9,173.9 C632.9,174.6 632.7,176.1 632.2,176.6 Z" fill="#707070"/>
<path d="M627.5,175.3 C627.2,175.9 626.2,177.5 625.6,177.6 C625.1,177.7 623.3,176.9 622.9,176.4 C622.4,176.0 621.5,174.4 621.5,173.8 C621.5,173.2 622.6,171.7 623.1,171.4 C623.6,171.1 625.2,171.3 625.7,171.5 C626.2,171.7 627.4,172.4 627.6,172.9 C627.8,173.3 627.7,174.8 627.5,175.3 Z" fill="#474747"/>
<path d="M650.0,177.9 C649.4,177.6 647.9,176.9 647.6,176.3 C647.2,175.7 647.0,173.3 647.3,172.8 C647.7,172.2 649.8,171.3 650.5,171.3 C651.2,171.3 652.6,172.3 653.2,172.8 C653.8,173.2 655.5,174.8 655.5,175.4 C655.5,176.1 653.8,178.0 653.2,178.3 C652.5,178.6 650.7,178.1 650.0,177.9 Z" fill="#1e1e1e"/>
<path d="M671.2,157.3 C671.1,157.9 670.0,159.1 669.5,159.4 C669.0,159.6 667.7,159.7 667.1,159.5 C666.6,159.4 665.3,158.5 665.1,158.0 C664.9,157.5 664.9,155.7 665.2,155.3 C665.5,154.8 667.1,154.3 667.7,154.2 C668.2,154.2 669.7,154.5 670.1,154.8 C670.5,155.2 671.2,156.8 671.2,157.3 Z" fill="#474747"/>
<path d="M653.7,124.8 C654.2,124.4 655.9,123.2 656.4,123.4 C656.8,123.5 657.3,125.6 657.4,126.2 C657.6,126.8 657.9,128.3 657.7,128.8 C657.4,129.2 655.9,130.1 655.3,130.2 C654.6,130.3 652.6,130.1 652.2,129.7 C651.8,129.3 651.6,127.1 651.8,126.6 C652.0,126.0 653.2,125.2 653.7,124.8 Z" fill="#707070"/>
<path d="M625.1,133.4 C624.6,132.9 624.0,130.9 624.0,130.2 C624.1,129.4 625.3,127.1 625.9,126.8 C626.5,126.6 628.8,127.5 629.4,127.9 C630.0,128.3 630.6,129.6 630.9,130.3 C631.1,131.0 631.7,133.1 631.4,133.6 C631.1,134.1 628.8,134.6 628.1,134.5 C627.3,134.5 625.6,133.9 625.1,133.4 Z" fill="#474747"/>
</g></g>

<line x1="85.25" y1="542.5" x2="626.1500000000001" y2="542.5" stroke="#d9d9d9" stroke-width="1.5"/>
<line x1="85.25" y1="508.1" x2="626.1500000000001" y2="508.1" stroke="#d9d9d9" stroke-width="1.5"/>
<line x1="85.25" y1="473.8" x2="626.1500000000001" y2="473.8" stroke="#d9d9d9" stroke-width="1.5"/>
<line x1="85.25" y1="439.4" x2="626.1500000000001" y2="439.4" stroke="#d9d9d9" stroke-width="1.5"/>
<line x1="85.25" y1="405.1" x2="626.1500000000001" y2="405.1" stroke="#d9d9d9" stroke-width="1.5"/>
<line x1="85.25" y1="370.8" x2="626.1500000000001" y2="370.8" stroke="#d9d9d9" stroke-width="1.5"/>
<line x1="85.25" y1="336.4" x2="626.1500000000001" y2="336.4" stroke="#d9d9d9" stroke-width="1.5"/>
<line x1="85.25" y1="302.1" x2="626.1500000000001" y2="302.1" stroke="#d9d9d9" stroke-width="1.5"/>
<line x1="85.25" y1="267.7" x2="626.1500000000001" y2="267.7" stroke="#d9d9d9" stroke-width="1.5"/>
<line x1="175.4" y1="233.39999999999998" x2="175.4" y2="576.8" stroke="#d9d9d9" stroke-width="1.5"/>
<line x1="265.6" y1="233.39999999999998" x2="265.6" y2="576.8" stroke="#d9d9d9" stroke-width="1.5"/>
<line x1="355.7" y1="233.39999999999998" x2="355.7" y2="576.8" stroke="#d9d9d9" stroke-width="1.5"/>
<line x1="445.9" y1="233.39999999999998" x2="445.9" y2="576.8" stroke="#d9d9d9" stroke-width="1.5"/>
<line x1="536.0" y1="233.39999999999998" x2="536.0" y2="576.8" stroke="#d9d9d9" stroke-width="1.5"/>
<polyline points="103.3,497.7 121.3,466.9 139.3,470.7 157.4,474.8 175.4,477.7 193.4,480.0 211.5,481.1 229.5,481.8 247.5,481.9 265.6,483.1 283.6,483.1 301.6,483.1 319.6,483.1 337.7,483.1 355.7,483.1 373.7,483.1 391.8,483.1 409.8,483.1 427.8,483.1 445.9,483.1 463.9,483.1 481.9,483.1 499.9,483.1 518.0,483.1 536.0,483.1 554.0,483.1 572.1,483.1 590.1,483.1 608.1,483.1 626.2,483.1" fill="none" stroke="#0aab4e" stroke-width="3" stroke-linejoin="round"/>
<polyline points="103.3,513.0 121.3,514.5 139.3,522.7 157.4,528.7 175.4,531.0 193.4,531.9 211.5,532.9 229.5,532.9 247.5,532.9 265.6,532.9 283.6,532.9 301.6,533.0 319.6,533.0 337.7,533.0 355.7,533.0 373.7,533.0 391.8,533.0 409.8,533.0 427.8,533.0 445.9,533.0 463.9,533.0 481.9,533.0 499.9,533.1 518.0,533.1 536.0,533.1 554.0,533.1 572.1,533.1 590.1,533.1 608.1,533.1 626.2,533.1" fill="none" stroke="#08a8e8" stroke-width="3" stroke-linejoin="round"/>
<polyline points="103.3,476.9 121.3,423.3 139.3,422.6 157.4,421.9 175.4,421.9 193.4,420.3 211.5,420.2 229.5,419.2 247.5,418.5 265.6,418.4 283.6,417.5 301.6,417.1 319.6,416.1 337.7,415.3 355.7,415.2 373.7,415.2 391.8,414.7 409.8,414.7 427.8,414.4 445.9,413.7 463.9,413.5 481.9,413.4 499.9,413.3 518.0,412.7 536.0,412.5 554.0,412.5 572.1,412.5 590.1,412.5 608.1,412.1 626.2,411.1" fill="none" stroke="#0868c6" stroke-width="3" stroke-linejoin="round"/>
<polyline points="103.3,472.1 121.3,402.2 139.3,380.4 157.4,364.7 175.4,354.3 193.4,345.7 211.5,340.0 229.5,334.4 247.5,330.2 265.6,326.7 283.6,323.4 301.6,320.3 319.6,317.2 337.7,315.1 355.7,313.4 373.7,311.4 391.8,309.3 409.8,307.1 427.8,305.3 445.9,304.1 463.9,302.8 481.9,301.5 499.9,300.6 518.0,298.7 536.0,297.7 554.0,296.9 572.1,295.9 590.1,295.0 608.1,294.0 626.2,293.2" fill="none" stroke="#ec0008" stroke-width="3" stroke-linejoin="round"/>
<polyline points="103.3,471.0 121.3,402.2 139.3,383.5 157.4,369.4 175.4,361.5 193.4,356.0 211.5,349.8 229.5,344.7 247.5,340.0 265.6,337.2 283.6,334.9 301.6,332.0 319.6,329.9 337.7,327.6 355.7,325.8 373.7,323.9 391.8,322.3 409.8,321.1 427.8,319.6 445.9,317.7 463.9,317.0 481.9,315.8 499.9,314.8 518.0,313.5 536.0,312.6 554.0,311.9 572.1,311.0 590.1,310.0 608.1,309.0 626.2,309.0" fill="none" stroke="#f5b07c" stroke-width="3" stroke-linejoin="round"/>
<rect x="85.25" y="233.4" width="540.9" height="343.4" fill="none" stroke="#000" stroke-width="2"/>
<line x1="85.25" y1="542.5" x2="92.25" y2="542.5" stroke="#000" stroke-width="2"/>
<line x1="85.25" y1="508.1" x2="92.25" y2="508.1" stroke="#000" stroke-width="2"/>
<line x1="85.25" y1="473.8" x2="92.25" y2="473.8" stroke="#000" stroke-width="2"/>
<line x1="85.25" y1="439.4" x2="92.25" y2="439.4" stroke="#000" stroke-width="2"/>
<line x1="85.25" y1="405.1" x2="92.25" y2="405.1" stroke="#000" stroke-width="2"/>
<line x1="85.25" y1="370.8" x2="92.25" y2="370.8" stroke="#000" stroke-width="2"/>
<line x1="85.25" y1="336.4" x2="92.25" y2="336.4" stroke="#000" stroke-width="2"/>
<line x1="85.25" y1="302.1" x2="92.25" y2="302.1" stroke="#000" stroke-width="2"/>
<line x1="85.25" y1="267.7" x2="92.25" y2="267.7" stroke="#000" stroke-width="2"/>
<line x1="175.4" y1="576.8" x2="175.4" y2="569.8" stroke="#000" stroke-width="2"/>
<line x1="265.6" y1="576.8" x2="265.6" y2="569.8" stroke="#000" stroke-width="2"/>
<line x1="355.7" y1="576.8" x2="355.7" y2="569.8" stroke="#000" stroke-width="2"/>
<line x1="445.9" y1="576.8" x2="445.9" y2="569.8" stroke="#000" stroke-width="2"/>
<line x1="536.0" y1="576.8" x2="536.0" y2="569.8" stroke="#000" stroke-width="2"/>
<text x="65.5" y="583.3" text-anchor="end" class="t">0</text>
<text x="65.5" y="549.0" text-anchor="end" class="t">0.1</text>
<text x="65.5" y="514.6" text-anchor="end" class="t">0.2</text>
<text x="65.5" y="480.3" text-anchor="end" class="t">0.3</text>
<text x="65.5" y="445.9" text-anchor="end" class="t">0.4</text>
<text x="65.5" y="411.6" text-anchor="end" class="t">0.5</text>
<text x="65.5" y="377.3" text-anchor="end" class="t">0.6</text>
<text x="65.5" y="342.9" text-anchor="end" class="t">0.7</text>
<text x="65.5" y="308.6" text-anchor="end" class="t">0.8</text>
<text x="65.5" y="274.2" text-anchor="end" class="t">0.9</text>
<text x="65.5" y="239.9" text-anchor="end" class="t">1</text>
<text x="85.2" y="609.5" text-anchor="middle" class="t">0</text>
<text x="175.4" y="609.5" text-anchor="middle" class="t">5</text>
<text x="265.6" y="609.5" text-anchor="middle" class="t">10</text>
<text x="355.7" y="609.5" text-anchor="middle" class="t">15</text>
<text x="445.9" y="609.5" text-anchor="middle" class="t">20</text>
<text x="536.0" y="609.5" text-anchor="middle" class="t">25</text>
<text x="626.2" y="609.5" text-anchor="middle" class="t">30</text>
<text x="355.5" y="636" text-anchor="middle" class="t">main iteration</text>
<text transform="translate(27.6,404.85) rotate(-90)" text-anchor="middle" class="t" style="font-size:23px">Ek</text>
<line x1="97.0" y1="250.6" x2="134.5" y2="250.6" stroke="#0aab4e" stroke-width="3.2" stroke-linecap="round"/>
<text x="139.0" y="257.9" class="t">(a)</text>
<line x1="200.8" y1="250.6" x2="238.3" y2="250.6" stroke="#08a8e8" stroke-width="3.2" stroke-linecap="round"/>
<text x="242.8" y="257.9" class="t">(b)-1</text>
<line x1="304.5" y1="250.6" x2="342" y2="250.6" stroke="#0868c6" stroke-width="3.2" stroke-linecap="round"/>
<text x="346.5" y="257.9" class="t">(b)-2</text>
<line x1="97.0" y1="289.3" x2="134.5" y2="289.3" stroke="#ec0008" stroke-width="3.2" stroke-linecap="round"/>
<text x="139.0" y="296.6" class="t">(c)-1</text>
<line x1="200.8" y1="289.3" x2="238.3" y2="289.3" stroke="#f5b07c" stroke-width="3.2" stroke-linecap="round"/>
<text x="242.8" y="296.6" class="t">(c)-2</text>
</svg>
</body></html>
